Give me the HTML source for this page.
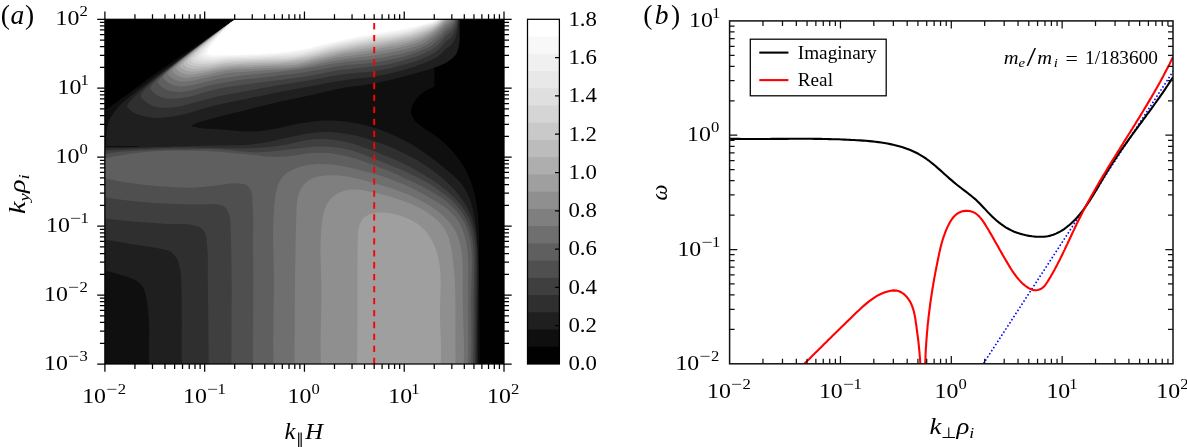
<!DOCTYPE html>
<html><head><meta charset="utf-8"><title>fig</title><style>html,body{margin:0;padding:0;background:#fff}svg{display:block;will-change:transform;opacity:0.999}</style></head><body>
<svg width="1187" height="447" viewBox="0 0 1187 447">
<rect width="1187" height="447" fill="#fff"/>
<g><rect x="104.9" y="19.3" width="399.1" height="344.7" fill="#000"/>
<path fill="#0f0f0f" d="M104.9,110.5C113.3,104.5 121.7,98.6 130.0,92.5C136.7,87.6 143.3,82.4 150.0,77.5C158.2,71.5 166.6,65.8 175.0,60.0C183.3,54.3 191.7,48.7 200.0,43.0C208.9,37.0 217.8,30.9 226.7,25.0C229.6,23.1 232.4,21.2 235.3,19.3L235.3,19.3L459.6,19.3L459.6,40.0L459.6,40.0C459.3,42.3 459.2,44.7 458.6,47.0C457.9,49.9 456.9,52.9 455.3,55.3C453.2,58.3 449.6,60.4 446.4,62.4C442.7,64.6 438.5,65.8 434.5,67.5L434.5,67.5L434.5,86.5L434.5,86.5C431.7,87.9 428.8,89.0 426.2,90.6C423.3,92.5 420.3,94.7 417.9,97.3C415.7,99.7 413.5,102.5 412.4,105.6C411.5,108.1 410.7,111.1 411.2,113.6C411.7,116.0 413.3,118.5 414.9,120.5C416.7,122.8 419.4,124.6 421.8,126.4C424.4,128.5 427.4,130.2 430.2,132.1C433.0,134.1 435.8,136.0 438.5,138.1C441.1,140.1 443.6,142.3 446.0,144.6C448.3,146.8 450.6,149.1 452.7,151.5C454.8,153.9 456.8,156.4 458.7,158.9C460.5,161.5 462.2,164.1 463.8,166.8C465.3,169.4 466.8,172.2 468.1,175.0C469.4,177.8 470.5,180.6 471.6,183.5C472.6,186.5 473.5,189.4 474.2,192.4C475.0,195.5 475.6,198.5 476.2,201.6C476.7,204.7 477.2,207.9 477.5,211.0C477.9,214.2 478.2,217.4 478.4,220.6C478.6,223.8 478.8,227.0 478.9,230.2C479.0,233.5 479.0,236.7 479.1,240.0C479.1,243.2 479.1,246.5 479.1,249.7C479.1,253.0 479.1,256.2 479.1,259.4C479.1,262.6 479.1,265.8 479.1,269.0C479.1,272.2 479.1,275.4 479.1,278.6C479.1,281.7 479.2,284.9 479.2,288.0C479.2,291.1 479.2,294.3 479.3,297.4C479.3,300.6 479.4,303.7 479.4,306.8C479.4,310.0 479.5,313.1 479.5,316.2C479.5,319.4 479.6,322.5 479.6,325.6C479.6,328.8 479.7,332.0 479.7,335.1C479.7,338.3 479.7,341.5 479.7,344.6C479.7,347.9 479.7,351.1 479.7,354.3C479.7,357.5 479.6,360.8 479.6,364.0L479.6,364.0L104.9,364.0Z"/>
<path fill="#1f1f1f" d="M105.9,147.2C106.0,144.8 106.1,142.4 106.2,140.0C106.3,137.1 106.3,134.2 106.7,131.4C107.1,128.0 107.6,124.4 108.9,121.2C110.1,118.1 112.1,115.3 114.0,112.5C116.2,109.4 118.6,106.4 121.3,103.7C124.0,101.1 127.1,98.9 130.0,96.5C136.6,91.1 143.3,85.9 150.0,80.7C159.8,73.2 170.0,66.1 180.0,58.9C190.0,51.7 199.9,44.5 210.0,37.4C218.7,31.3 227.4,25.3 236.1,19.3L236.1,19.3L459.6,19.3L459.6,40.0L459.6,40.0C459.3,42.3 459.2,44.7 458.6,47.0C457.9,49.9 456.9,52.9 455.3,55.3C453.2,58.3 449.6,60.4 446.4,62.4C442.7,64.6 438.5,65.9 434.5,67.5C425.3,71.1 415.6,73.4 406.0,76.0C395.4,78.8 384.8,81.4 374.0,83.5C362.8,85.7 351.2,86.3 340.0,88.5C333.3,89.8 326.7,91.5 320.0,93.0C313.3,94.5 306.7,96.0 300.0,97.4C293.3,98.8 286.6,100.1 280.0,101.6C273.3,103.1 266.7,104.9 260.0,106.5C253.3,108.2 246.7,109.8 240.0,111.5C232.7,113.3 225.3,115.0 218.0,116.9C213.0,118.2 207.9,119.5 203.0,121.0C200.7,121.7 198.2,122.3 196.0,123.3C194.3,124.1 192.7,125.1 191.0,126.0L191.0,126.0C194.0,126.6 197.0,127.4 200.0,127.9C203.1,128.4 206.2,128.5 209.2,128.8C212.3,129.0 215.4,129.1 218.5,129.3C221.6,129.6 224.7,129.8 227.8,130.1C230.9,130.4 234.0,130.7 237.1,131.0C240.1,131.2 243.2,131.5 246.3,131.6C249.4,131.6 252.5,131.6 255.5,131.4C258.6,131.2 261.7,130.9 264.8,130.5C267.9,130.0 270.9,129.5 274.0,128.9C277.1,128.3 280.1,127.7 283.2,127.0C286.3,126.3 289.4,125.6 292.4,125.0C295.5,124.4 298.6,123.7 301.6,123.1C304.7,122.6 307.8,122.1 310.9,121.7C313.9,121.3 317.0,121.0 320.1,120.8C323.1,120.6 326.2,120.5 329.3,120.6C332.3,120.6 335.4,120.7 338.4,120.9C341.5,121.1 344.5,121.4 347.6,121.8C350.6,122.2 353.6,122.7 356.6,123.3C359.6,123.8 362.6,124.5 365.5,125.3C368.5,126.0 371.5,126.9 374.4,127.8C377.3,128.7 380.2,129.7 383.1,130.8C386.0,131.8 388.8,133.0 391.7,134.2C394.5,135.5 397.3,136.8 400.1,138.2C402.9,139.5 405.6,141.0 408.3,142.5C411.0,144.0 413.7,145.6 416.3,147.3C419.0,149.0 421.6,150.7 424.2,152.5C426.7,154.2 429.3,156.1 431.8,158.0C434.3,159.9 436.7,161.8 439.2,163.8C441.7,165.7 444.1,167.7 446.5,169.7C448.9,171.7 451.3,173.7 453.6,175.8C455.8,177.9 458.1,180.0 460.1,182.3C462.0,184.6 463.8,187.0 465.3,189.6C466.8,192.2 468.1,194.9 469.3,197.6C470.4,200.5 471.3,203.4 472.1,206.3C473.0,209.3 473.6,212.3 474.2,215.4C474.8,218.5 475.2,221.6 475.6,224.7C476.0,227.8 476.3,231.0 476.6,234.1C476.9,237.2 477.1,240.4 477.3,243.5C477.5,246.6 477.7,249.7 477.8,252.8C478.0,255.9 478.1,259.0 478.1,262.1C478.2,265.2 478.3,268.3 478.3,271.3C478.4,274.4 478.4,277.5 478.4,280.6C478.4,283.7 478.3,286.7 478.3,289.8C478.3,292.9 478.2,296.0 478.2,299.0C478.1,302.1 478.1,305.2 478.0,308.3C478.0,311.3 477.9,314.4 477.8,317.5C477.8,320.6 477.7,323.7 477.7,326.7C477.7,329.8 477.6,332.9 477.6,336.0C477.6,339.1 477.6,342.2 477.6,345.3C477.6,348.4 477.7,351.5 477.7,354.6C477.8,357.8 477.9,360.9 478.0,364.0L478.0,364.0L148.9,364.0L148.9,364.0C148.6,346.0 150.0,327.9 148.0,310.0C147.5,305.8 147.3,301.4 146.3,297.3C145.5,293.9 144.9,290.1 143.0,287.2C141.5,284.9 139.3,282.9 137.1,281.3C133.7,278.8 129.3,277.8 125.3,276.3C118.7,273.9 111.7,272.4 104.9,270.5L104.9,270.5L104.9,147.2Z"/>
<path fill="#2f2f2f" d="M104.9,148.3C108.0,148.2 111.1,148.2 114.2,148.1C117.3,148.1 120.3,148.0 123.4,147.9C126.5,147.9 129.6,147.8 132.7,147.7C135.8,147.6 138.9,147.5 142.0,147.5C145.1,147.4 148.2,147.3 151.2,147.2C154.3,147.1 157.4,147.0 160.5,147.0C163.6,146.9 166.7,146.8 169.8,146.7C172.9,146.6 176.0,146.5 179.1,146.5C182.2,146.4 185.2,146.3 188.3,146.2C191.4,146.1 194.5,146.1 197.6,146.0C200.7,145.9 203.8,145.9 206.9,145.8C210.0,145.7 213.0,145.7 216.1,145.6C219.2,145.5 222.3,145.5 225.4,145.4C228.4,145.3 231.5,145.3 234.6,145.2C237.6,145.1 240.7,145.0 243.8,144.9C246.8,144.7 249.9,144.5 252.9,144.2C256.0,143.9 259.1,143.5 262.1,143.0C265.2,142.5 268.2,141.9 271.3,141.3C274.3,140.7 277.4,140.0 280.4,139.3C283.4,138.6 286.5,137.9 289.5,137.2C292.6,136.5 295.6,135.8 298.7,135.2C301.7,134.6 304.7,134.0 307.8,133.5C310.8,133.0 313.8,132.6 316.9,132.4C319.9,132.1 323.0,132.0 326.0,132.0C329.0,132.0 332.1,132.1 335.1,132.4C338.1,132.6 341.2,133.0 344.2,133.4C347.2,133.9 350.2,134.4 353.2,135.1C356.2,135.7 359.2,136.5 362.2,137.3C365.2,138.1 368.1,139.0 371.1,139.9C374.0,140.8 377.0,141.8 379.9,142.9C382.8,143.9 385.7,145.0 388.6,146.2C391.5,147.4 394.4,148.6 397.2,149.9C400.0,151.2 402.8,152.5 405.6,153.9C408.4,155.3 411.1,156.8 413.8,158.3C416.5,159.9 419.2,161.4 421.8,163.1C424.5,164.8 427.0,166.5 429.6,168.3C432.1,170.1 434.6,171.9 437.1,173.8C439.5,175.8 441.9,177.7 444.2,179.8C446.6,181.9 448.8,184.0 451.0,186.2C453.2,188.4 455.3,190.7 457.2,193.0C459.2,195.3 461.0,197.8 462.7,200.3C464.4,202.8 466.0,205.3 467.4,208.0C468.8,210.6 470.1,213.4 471.1,216.1C472.2,218.9 473.1,221.8 473.8,224.8C474.6,227.7 475.1,230.7 475.6,233.7C476.1,236.8 476.4,239.9 476.7,243.0C476.9,246.1 477.1,249.3 477.2,252.4C477.3,255.6 477.3,258.7 477.3,261.9C477.3,265.1 477.3,268.3 477.2,271.4C477.2,274.6 477.1,277.7 477.1,280.9C477.0,284.0 477.0,287.1 477.0,290.2C476.9,293.3 476.9,296.3 476.9,299.4C476.9,302.5 476.9,305.5 476.8,308.6C476.8,311.6 476.8,314.6 476.8,317.7C476.8,320.7 476.8,323.8 476.8,326.8C476.8,329.9 476.8,332.9 476.7,336.0C476.7,339.1 476.7,342.1 476.7,345.2C476.7,348.3 476.6,351.4 476.6,354.5C476.6,357.7 476.5,360.8 476.5,364.0L476.5,364.0L181.7,364.0L181.7,364.0C181.7,346.0 181.9,328.0 181.7,310.0C181.6,301.8 181.8,293.7 181.4,285.5C181.1,279.9 181.3,274.1 180.0,268.7C179.2,265.3 178.5,261.6 176.7,258.6C175.2,256.1 173.2,253.4 170.8,251.8C167.6,249.6 163.0,249.5 159.0,248.5C150.7,246.5 142.1,245.9 133.7,244.5C124.1,242.9 114.5,241.2 104.9,239.5L104.9,239.5L104.9,148.3Z"/>
<path fill="#2f2f2f" d="M126.9,106.5C127.0,106.7 127.1,106.8 127.2,107.0C127.5,107.4 127.8,107.7 128.1,108.1C128.7,108.7 129.3,109.3 129.9,109.9C130.8,110.7 131.8,111.5 132.9,112.2C134.2,113.0 135.5,113.6 136.9,114.2C138.5,114.8 140.2,115.3 141.9,115.8C144.2,116.4 146.6,116.8 148.9,117.2C151.5,117.6 154.2,117.9 156.9,118.0C160.2,118.0 163.6,117.6 166.9,117.2C171.9,116.7 177.0,115.8 181.9,114.8C189.4,113.2 196.5,110.3 203.9,108.4C211.2,106.4 218.5,104.7 225.9,103.0C233.2,101.4 240.6,100.0 247.9,98.5C255.2,97.0 262.6,95.4 269.9,93.9C277.2,92.5 284.6,91.2 291.9,89.8C299.2,88.5 306.6,87.2 313.9,85.8C321.2,84.4 328.5,82.6 335.9,81.4C343.2,80.2 350.6,79.6 357.9,78.6C365.2,77.6 372.6,76.9 379.9,75.5C387.3,74.2 394.7,72.5 401.9,70.4C409.3,68.4 416.7,66.0 423.9,63.2C424.3,63.0 424.6,62.9 425.0,62.7C427.7,61.6 430.5,60.7 433.0,59.3C435.4,58.0 437.8,56.5 440.0,54.8C442.2,53.0 443.9,50.7 446.0,48.8C447.6,47.5 449.6,46.5 451.0,44.9C452.4,43.4 453.6,41.7 454.5,39.9C455.7,37.5 456.4,34.9 457.0,32.3C457.9,28.8 458.3,25.1 458.5,21.5C458.5,20.7 458.6,20.0 458.6,19.3L458.6,19.3L236.1,19.3L236.1,19.3C226.3,26.0 216.5,32.6 206.9,39.4C196.8,46.6 186.8,53.9 176.9,61.4C170.2,66.5 163.4,71.5 156.9,76.9C152.2,80.7 147.4,84.6 142.9,88.7C140.2,91.1 137.5,93.6 134.9,96.2C133.4,97.7 131.8,99.2 130.4,100.8C129.5,101.9 128.5,102.9 127.9,104.0C127.5,104.8 127.2,105.7 126.9,106.5Z"/>
<path fill="#3f3f3f" d="M104.9,150.8C108.0,150.6 111.1,150.5 114.2,150.3C117.3,150.1 120.3,149.9 123.4,149.8C126.5,149.6 129.6,149.4 132.7,149.3C135.8,149.1 138.9,148.9 141.9,148.8C145.0,148.6 148.1,148.5 151.2,148.4C154.3,148.2 157.4,148.1 160.5,148.0C163.6,147.9 166.6,147.8 169.7,147.8C172.8,147.7 175.9,147.6 179.0,147.6C182.1,147.6 185.2,147.6 188.3,147.6C191.4,147.6 194.5,147.7 197.6,147.7C200.7,147.8 203.8,147.8 206.9,147.9C210.0,148.0 213.1,148.0 216.2,148.1C219.3,148.2 222.4,148.2 225.5,148.3C228.5,148.3 231.6,148.4 234.7,148.4C237.8,148.4 240.9,148.4 243.9,148.3C247.0,148.3 250.1,148.2 253.1,148.1C256.2,148.0 259.2,147.8 262.3,147.6C265.3,147.4 268.4,147.1 271.4,146.8C274.5,146.4 277.5,146.0 280.6,145.5C283.7,145.0 286.7,144.4 289.8,143.8C292.8,143.1 295.9,142.4 299.0,141.8C302.0,141.1 305.1,140.5 308.2,140.0C311.2,139.6 314.3,139.2 317.4,139.1C320.4,138.9 323.5,138.9 326.5,139.1C329.6,139.3 332.6,139.6 335.6,140.1C338.6,140.5 341.7,141.1 344.7,141.8C347.7,142.5 350.7,143.3 353.6,144.1C356.6,145.0 359.6,146.0 362.5,146.9C365.5,147.9 368.4,149.0 371.3,150.1C374.2,151.1 377.1,152.3 380.0,153.4C382.9,154.5 385.7,155.7 388.6,156.9C391.4,158.1 394.2,159.4 397.0,160.6C399.8,161.9 402.6,163.2 405.3,164.6C408.1,166.0 410.8,167.4 413.5,168.8C416.2,170.3 418.9,171.8 421.6,173.4C424.3,175.0 426.9,176.6 429.5,178.2C432.2,179.9 434.8,181.7 437.3,183.5C439.8,185.3 442.3,187.1 444.7,189.1C447.1,191.1 449.5,193.1 451.7,195.2C454.0,197.3 456.2,199.5 458.2,201.8C460.2,204.1 462.1,206.5 463.8,209.0C465.5,211.5 467.0,214.1 468.3,216.8C469.6,219.4 470.7,222.3 471.6,225.1C472.5,227.9 473.2,230.9 473.7,233.8C474.3,236.8 474.7,239.9 475.0,243.0C475.3,246.1 475.5,249.2 475.6,252.3C475.7,255.5 475.7,258.6 475.7,261.8C475.7,265.0 475.7,268.1 475.6,271.3C475.6,274.5 475.5,277.6 475.5,280.8C475.4,283.9 475.4,287.0 475.4,290.1C475.4,293.2 475.4,296.2 475.3,299.3C475.3,302.4 475.3,305.4 475.3,308.5C475.3,311.5 475.3,314.6 475.4,317.6C475.4,320.7 475.4,323.7 475.4,326.8C475.4,329.9 475.4,332.9 475.3,336.0C475.3,339.1 475.3,342.1 475.3,345.2C475.3,348.3 475.2,351.4 475.2,354.5C475.1,357.7 475.1,360.8 475.0,364.0L475.0,364.0L208.7,364.0L208.7,364.0C208.4,336.0 208.3,308.0 207.8,280.0C207.6,268.3 208.4,256.6 207.0,245.0C206.5,241.3 206.8,237.3 205.3,234.0C204.3,231.9 202.9,229.5 201.1,228.1C198.9,226.4 195.5,226.0 192.7,225.3C184.6,223.2 175.8,224.4 167.4,223.9C156.2,223.2 144.9,222.4 133.7,221.4C124.1,220.5 114.5,219.5 104.9,218.5L104.9,218.5L104.9,150.8Z"/>
<path fill="#3f3f3f" d="M140.6,96.3C140.7,96.5 140.8,96.7 140.9,96.9C141.2,97.3 141.5,97.7 141.8,98.1C142.3,98.8 142.9,99.5 143.6,100.1C144.5,101.0 145.5,101.8 146.6,102.6C147.8,103.4 149.2,104.2 150.6,104.9C152.2,105.6 153.9,106.3 155.6,106.7C157.8,107.3 160.2,107.5 162.6,107.7C165.2,107.8 167.9,107.6 170.6,107.4C173.9,107.2 177.3,106.8 180.6,106.2C185.7,105.3 190.6,103.6 195.6,102.3C202.9,100.4 210.2,98.2 217.6,96.5C224.9,94.8 232.2,93.6 239.6,92.2C246.9,90.8 254.3,89.6 261.6,88.3C268.9,87.0 276.2,85.7 283.6,84.5C290.9,83.3 298.3,82.3 305.6,81.0C312.9,79.8 320.2,78.2 327.6,76.9C334.9,75.7 342.2,74.5 349.6,73.6C356.9,72.7 364.3,72.6 371.6,71.5C379.0,70.5 386.3,69.1 393.6,67.4C401.0,65.6 408.4,63.7 415.6,61.2C418.8,60.1 421.9,58.9 425.0,57.6C427.7,56.4 430.5,55.2 433.0,53.6C435.5,52.1 437.9,50.2 440.0,48.2C442.2,46.1 443.8,43.4 446.0,41.4C447.6,39.9 449.6,39.0 451.0,37.4C452.4,35.9 453.6,34.2 454.5,32.4C455.7,30.0 456.4,27.4 457.0,24.8C457.4,23.0 457.5,21.1 457.8,19.3L457.8,19.3L236.1,19.3L236.1,19.3C230.9,22.8 225.7,26.2 220.6,29.7C210.4,36.8 200.5,44.3 190.6,51.8C183.9,56.8 177.2,61.9 170.6,67.2C165.9,70.9 161.1,74.6 156.6,78.6C153.9,80.9 151.1,83.3 148.6,85.8C147.0,87.3 145.5,88.8 144.1,90.5C143.2,91.5 142.2,92.6 141.6,93.8C141.2,94.6 140.9,95.5 140.6,96.3Z"/>
<path fill="#4f4f4f" d="M104.9,154.0C108.0,153.5 111.1,153.0 114.1,152.6C117.2,152.3 120.3,151.9 123.4,151.6C126.5,151.3 129.6,151.1 132.7,150.9C135.8,150.7 138.9,150.5 142.0,150.4C145.1,150.2 148.2,150.1 151.3,150.0C154.4,149.9 157.5,149.8 160.6,149.8C163.7,149.7 166.8,149.7 169.9,149.6C173.0,149.6 176.1,149.6 179.2,149.5C182.3,149.5 185.4,149.4 188.5,149.4C191.6,149.3 194.7,149.2 197.9,149.2C201.0,149.2 204.1,149.1 207.2,149.1C210.3,149.2 213.4,149.2 216.5,149.3C219.6,149.4 222.7,149.6 225.8,149.8C228.9,150.1 232.0,150.4 235.1,150.7C238.1,151.0 241.2,151.4 244.3,151.6C247.4,151.9 250.5,152.1 253.6,152.2C256.6,152.3 259.7,152.3 262.8,152.1C265.9,152.0 269.0,151.8 272.1,151.5C275.2,151.2 278.2,150.9 281.3,150.5C284.4,150.1 287.5,149.7 290.6,149.3C293.7,148.9 296.8,148.5 299.8,148.2C302.9,147.8 306.0,147.4 309.1,147.2C312.2,146.9 315.3,146.7 318.4,146.6C321.5,146.6 324.6,146.5 327.7,146.7C330.7,146.8 333.8,147.0 336.8,147.4C339.9,147.8 342.9,148.3 345.9,149.0C348.9,149.7 351.9,150.5 354.9,151.4C357.8,152.4 360.8,153.4 363.7,154.5C366.6,155.6 369.5,156.7 372.4,157.9C375.3,159.0 378.2,160.2 381.1,161.4C384.0,162.6 386.9,163.7 389.7,164.9C392.6,166.1 395.4,167.3 398.3,168.6C401.1,169.8 403.9,171.0 406.7,172.3C409.5,173.6 412.3,174.9 415.1,176.2C417.8,177.6 420.6,179.0 423.3,180.5C426.0,182.0 428.7,183.5 431.4,185.2C434.0,186.8 436.7,188.6 439.2,190.4C441.8,192.2 444.3,194.1 446.7,196.1C449.1,198.1 451.5,200.2 453.7,202.4C455.8,204.6 457.9,206.9 459.8,209.3C461.7,211.7 463.4,214.2 464.8,216.8C466.3,219.4 467.5,222.1 468.6,224.9C469.6,227.7 470.5,230.6 471.2,233.5C471.9,236.4 472.4,239.5 472.8,242.5C473.2,245.5 473.5,248.6 473.7,251.7C473.9,254.9 474.0,258.1 474.1,261.2C474.1,264.4 474.1,267.6 474.0,270.8C474.0,274.0 473.9,277.2 473.9,280.3C473.8,283.5 473.7,286.6 473.7,289.8C473.6,292.9 473.6,296.0 473.6,299.1C473.5,302.2 473.5,305.2 473.5,308.3C473.5,311.4 473.5,314.4 473.5,317.5C473.5,320.5 473.5,323.6 473.4,326.7C473.4,329.7 473.4,332.8 473.4,335.9C473.4,338.9 473.4,342.0 473.3,345.1C473.3,348.2 473.3,351.4 473.2,354.5C473.1,357.7 473.1,360.8 473.0,364.0L473.0,364.0L231.4,364.0L231.4,364.0C231.3,324.3 232.2,284.6 231.1,245.0C231.0,239.7 231.0,234.3 230.6,229.0C230.2,223.9 230.9,218.4 228.9,213.8C227.9,211.4 226.7,208.6 224.7,207.0C222.9,205.6 220.2,205.1 217.9,204.5C212.5,203.1 206.7,204.5 201.1,204.5C189.9,204.4 178.6,204.2 167.4,203.7C156.2,203.2 144.9,202.4 133.7,201.2C124.1,200.2 114.5,198.7 104.9,197.5L104.9,197.5L104.9,154.0Z"/>
<path fill="#4f4f4f" d="M150.4,88.3C150.5,88.5 150.6,88.7 150.7,88.9C151.0,89.4 151.3,89.8 151.6,90.2C152.1,91.0 152.7,91.7 153.4,92.3C154.3,93.3 155.3,94.1 156.4,94.9C157.6,95.7 159.0,96.4 160.4,96.9C162.0,97.6 163.7,97.9 165.4,98.3C167.7,98.7 170.1,98.8 172.4,98.8C175.1,98.9 177.7,98.6 180.4,98.3C183.8,97.9 187.1,97.1 190.4,96.4C195.5,95.2 200.4,93.4 205.4,92.0C212.7,90.1 220.0,88.4 227.4,87.0C234.7,85.7 242.1,85.0 249.4,84.0C256.7,83.0 264.0,81.9 271.4,81.0C278.7,80.0 286.1,79.4 293.4,78.3C300.7,77.3 308.1,76.0 315.4,74.7C322.7,73.4 330.0,71.6 337.4,70.5C344.7,69.4 352.1,69.0 359.4,68.1C366.7,67.3 374.1,66.5 381.4,65.3C388.8,64.0 396.2,62.5 403.4,60.4C410.7,58.4 418.1,56.3 425.0,53.0C427.7,51.7 430.5,50.4 433.0,48.8C435.5,47.1 437.8,45.1 440.0,42.9C442.2,40.8 443.8,38.0 446.0,35.9C447.5,34.4 449.6,33.5 451.0,31.9C452.4,30.4 453.6,28.7 454.5,26.9C455.7,24.5 456.6,21.9 457.0,19.3C457.0,19.3 457.0,19.3 457.0,19.3L457.0,19.3L236.0,19.3L236.0,19.3C234.2,20.5 232.3,21.6 230.4,22.8C219.9,29.4 210.3,37.3 200.4,44.7C193.7,49.7 187.0,54.8 180.4,60.0C175.7,63.7 171.0,67.4 166.4,71.3C163.7,73.6 161.0,75.9 158.4,78.3C156.9,79.8 155.3,81.2 153.9,82.8C153.0,83.8 152.0,84.7 151.4,85.9C151.0,86.7 150.7,87.5 150.4,88.3Z"/>
<path fill="#5f5f5f" d="M104.9,158.6C107.9,157.9 110.9,157.2 113.9,156.6C116.9,156.0 119.9,155.5 122.9,155.0C126.0,154.4 129.0,154.0 132.0,153.6C135.0,153.2 138.1,152.8 141.1,152.5C144.2,152.1 147.2,151.9 150.3,151.6C153.3,151.4 156.4,151.2 159.4,151.0C162.5,150.9 165.5,150.7 168.6,150.6C171.7,150.6 174.7,150.5 177.8,150.5C180.9,150.5 183.9,150.5 187.0,150.5C190.1,150.5 193.2,150.6 196.2,150.7C199.3,150.8 202.4,150.9 205.4,151.1C208.5,151.2 211.6,151.4 214.6,151.6C217.7,151.8 220.8,152.0 223.8,152.2C226.9,152.4 230.0,152.7 233.0,152.9C236.1,153.2 239.1,153.5 242.2,153.8C245.2,154.1 248.3,154.4 251.3,154.7C254.3,155.0 257.4,155.4 260.4,155.7C263.4,156.0 266.5,156.3 269.5,156.5C272.5,156.6 275.6,156.8 278.6,156.7C281.7,156.7 284.7,156.5 287.8,156.2C290.9,155.9 293.9,155.4 297.0,155.0C300.1,154.5 303.1,154.0 306.2,153.6C309.3,153.2 312.3,152.9 315.4,152.7C318.4,152.6 321.5,152.6 324.5,152.8C327.5,152.9 330.6,153.3 333.6,153.7C336.6,154.1 339.6,154.7 342.5,155.3C345.5,156.0 348.5,156.8 351.4,157.6C354.4,158.4 357.3,159.3 360.2,160.2C363.1,161.2 366.0,162.1 368.9,163.2C371.8,164.2 374.6,165.3 377.5,166.4C380.3,167.5 383.2,168.6 386.0,169.8C388.8,170.9 391.6,172.2 394.4,173.4C397.3,174.6 400.0,175.9 402.8,177.2C405.6,178.5 408.4,179.8 411.2,181.1C414.0,182.5 416.7,183.8 419.5,185.2C422.3,186.6 425.0,188.0 427.7,189.5C430.4,190.9 433.1,192.4 435.8,194.1C438.4,195.7 441.0,197.3 443.4,199.1C445.9,201.0 448.3,202.9 450.5,204.9C452.8,207.0 454.9,209.1 456.9,211.5C458.8,213.7 460.7,216.2 462.2,218.7C463.8,221.2 465.2,223.9 466.3,226.6C467.4,229.3 468.3,232.2 469.1,235.0C469.8,238.0 470.4,240.9 470.8,243.9C471.3,246.9 471.5,250.0 471.7,253.1C471.9,256.2 471.9,259.3 472.0,262.5C472.0,265.6 471.9,268.8 471.8,272.0C471.7,275.1 471.6,278.3 471.5,281.5C471.4,284.6 471.2,287.7 471.2,290.8C471.1,293.9 471.1,297.0 471.0,300.1C471.0,303.1 471.0,306.1 471.1,309.1C471.1,312.1 471.1,315.1 471.2,318.1C471.2,321.1 471.3,324.1 471.3,327.1C471.3,330.1 471.4,333.1 471.4,336.1C471.4,339.1 471.4,342.2 471.4,345.2C471.3,348.3 471.3,351.4 471.2,354.5C471.0,357.7 470.9,360.8 470.7,364.0L470.7,364.0L253.0,364.0L253.0,364.0C253.0,324.3 253.4,284.7 253.0,245.0C252.9,231.2 253.8,217.4 252.5,203.7C252.1,199.2 253.0,194.0 250.8,190.2C249.8,188.4 248.3,186.3 246.6,185.2C244.3,183.7 241.0,183.8 238.2,183.5C231.5,182.7 224.7,184.6 217.9,185.2C209.5,186.0 201.1,187.4 192.7,187.7C184.3,188.0 175.8,187.3 167.4,186.8C156.1,186.1 144.9,185.0 133.7,183.5C124.1,182.2 114.5,180.2 104.9,178.5L104.9,178.5L104.9,158.6Z"/>
<path fill="#5f5f5f" d="M157.8,82.3C157.9,82.5 158.0,82.7 158.1,82.9C158.4,83.3 158.7,83.8 159.0,84.2C159.5,84.9 160.2,85.5 160.8,86.2C161.7,87.0 162.7,87.8 163.8,88.4C165.1,89.2 166.4,89.8 167.8,90.3C169.4,90.9 171.1,91.3 172.8,91.6C175.1,92.0 177.5,92.0 179.8,92.0C182.5,91.9 185.2,91.5 187.8,91.1C191.2,90.5 194.5,89.4 197.8,88.5C202.8,87.3 207.8,85.9 212.8,84.8C220.1,83.2 227.4,81.8 234.8,80.7C242.1,79.6 249.5,79.1 256.8,78.2C264.1,77.3 271.5,76.3 278.8,75.4C286.1,74.5 293.5,73.9 300.8,72.9C308.2,71.8 315.5,70.3 322.8,69.0C330.1,67.8 337.4,66.3 344.8,65.3C352.1,64.4 359.5,64.4 366.8,63.5C374.2,62.6 381.5,61.4 388.8,60.0C396.2,58.5 403.6,56.9 410.8,54.5C415.6,53.0 420.5,51.4 425.0,49.1C427.8,47.7 430.5,46.2 433.0,44.4C435.5,42.6 437.8,40.6 440.0,38.5C442.1,36.5 443.8,33.9 446.0,31.9C447.6,30.4 449.6,29.5 451.0,27.9C452.4,26.4 453.7,24.7 454.5,22.9C455.0,21.7 455.3,20.5 455.7,19.3L455.7,19.3L236.0,19.3L236.0,19.3C226.6,26.0 217.1,32.5 207.8,39.3C201.1,44.3 194.4,49.4 187.8,54.5C183.1,58.2 178.4,61.9 173.8,65.7C171.1,68.0 168.4,70.3 165.8,72.6C164.3,74.1 162.7,75.4 161.3,77.0C160.4,78.0 159.5,78.9 158.8,80.0C158.4,80.7 158.1,81.5 157.8,82.3Z"/>
<path fill="#6f6f6f" d="M273.5,364.0C273.4,360.9 273.4,357.9 273.3,354.8C273.3,351.7 273.3,348.6 273.2,345.5C273.2,342.4 273.3,339.4 273.3,336.3C273.3,333.2 273.3,330.1 273.4,327.0C273.4,323.9 273.4,320.8 273.5,317.7C273.5,314.6 273.6,311.5 273.6,308.4C273.7,305.3 273.7,302.2 273.7,299.1C273.8,296.0 273.8,292.9 273.8,289.8C273.8,286.8 273.8,283.7 273.8,280.6C273.8,277.5 273.8,274.4 273.8,271.4C273.7,268.3 273.6,265.2 273.6,262.2C273.5,259.1 273.4,256.0 273.4,253.0C273.3,249.9 273.2,246.8 273.2,243.8C273.2,240.7 273.1,237.6 273.1,234.5C273.1,231.4 273.2,228.3 273.2,225.2C273.3,222.1 273.4,219.0 273.6,215.9C273.7,212.7 273.9,209.6 274.2,206.4C274.4,203.3 274.7,200.1 275.2,196.9C275.7,193.8 276.1,190.7 277.1,187.8C278.0,185.0 279.0,182.1 280.6,179.7C282.1,177.3 284.1,175.1 286.3,173.3C288.7,171.5 291.5,170.1 294.2,168.9C297.0,167.6 300.1,166.7 303.1,166.0C306.1,165.3 309.1,164.8 312.2,164.5C315.3,164.1 318.4,164.0 321.5,164.0C324.6,164.0 327.7,164.2 330.8,164.5C333.9,164.8 337.0,165.3 340.1,165.8C343.2,166.3 346.3,166.9 349.4,167.6C352.5,168.2 355.5,169.0 358.6,169.7C361.6,170.5 364.6,171.2 367.6,172.1C370.6,172.9 373.5,173.7 376.5,174.6C379.4,175.5 382.3,176.4 385.2,177.3C388.0,178.3 390.9,179.3 393.7,180.4C396.6,181.4 399.4,182.6 402.2,183.8C405.0,184.9 407.8,186.2 410.6,187.5C413.4,188.8 416.2,190.3 418.9,191.7C421.7,193.2 424.4,194.7 427.1,196.3C429.9,197.9 432.6,199.5 435.3,201.1C438.0,202.7 440.7,204.3 443.2,206.1C445.7,207.8 448.2,209.6 450.4,211.7C452.6,213.7 454.7,216.0 456.4,218.3C458.2,220.7 459.7,223.4 461.0,226.1C462.3,228.8 463.3,231.6 464.2,234.4C465.1,237.3 465.8,240.3 466.4,243.3C467.0,246.3 467.3,249.4 467.6,252.4C468.0,255.6 468.1,258.7 468.2,261.8C468.4,265.0 468.4,268.2 468.4,271.4C468.4,274.5 468.3,277.7 468.3,280.9C468.2,284.0 468.2,287.1 468.2,290.3C468.1,293.4 468.1,296.5 468.1,299.5C468.1,302.6 468.1,305.7 468.1,308.7C468.1,311.7 468.2,314.8 468.2,317.8C468.2,320.8 468.2,323.8 468.2,326.9C468.3,329.9 468.3,332.9 468.3,336.0C468.3,339.0 468.3,342.1 468.3,345.2C468.3,348.3 468.2,351.4 468.2,354.5C468.1,357.7 468.1,360.8 468.0,364.0Z"/>
<path fill="#6f6f6f" d="M163.0,77.5C163.1,77.7 163.2,77.9 163.3,78.0C163.6,78.5 163.9,78.9 164.2,79.3C164.8,79.9 165.4,80.6 166.0,81.1C166.9,82.0 168.0,82.7 169.0,83.3C170.3,84.1 171.6,84.7 173.0,85.1C174.6,85.7 176.3,86.0 178.0,86.2C180.3,86.5 182.7,86.4 185.0,86.3C187.7,86.1 190.4,85.6 193.0,85.1C196.4,84.4 199.7,83.3 203.0,82.5C208.0,81.3 213.0,80.0 218.0,79.0C225.3,77.6 232.7,76.7 240.0,75.7C247.3,74.8 254.7,74.3 262.0,73.5C269.3,72.8 276.7,72.1 284.0,71.3C291.4,70.5 298.7,69.8 306.0,68.6C313.4,67.5 320.7,65.8 328.0,64.6C335.3,63.3 342.7,62.2 350.0,61.3C357.3,60.4 364.7,60.2 372.0,59.2C379.4,58.2 386.7,56.9 394.0,55.3C401.4,53.6 408.9,52.0 416.0,49.4C419.0,48.2 422.1,47.1 425.0,45.6C427.8,44.1 430.5,42.4 433.0,40.5C435.5,38.7 437.8,36.7 440.0,34.6C442.1,32.7 443.8,30.3 446.0,28.4C447.6,27.0 449.6,26.0 451.0,24.4C452.4,22.9 453.9,21.3 454.5,19.4C454.5,19.4 454.5,19.3 454.5,19.3L454.5,19.3L236.0,19.3L236.0,19.3C228.3,24.7 220.6,29.9 213.0,35.4C206.3,40.3 199.6,45.4 193.0,50.5C188.3,54.1 183.6,57.7 179.0,61.5C176.3,63.7 173.6,66.0 171.0,68.3C169.5,69.7 167.9,71.0 166.5,72.5C165.6,73.4 164.7,74.3 164.0,75.4C163.6,76.1 163.3,76.8 163.0,77.5Z"/>
<path fill="#7f7f7f" d="M294.6,364.0C294.6,360.9 294.6,357.7 294.6,354.6C294.6,351.4 294.6,348.3 294.6,345.2C294.7,342.1 294.7,338.9 294.7,335.8C294.7,332.7 294.7,329.6 294.7,326.5C294.7,323.4 294.7,320.3 294.7,317.2C294.8,314.1 294.8,311.0 294.8,307.9C294.8,304.8 294.8,301.7 294.9,298.7C294.9,295.6 294.9,292.5 294.9,289.4C295.0,286.3 295.0,283.2 295.0,280.1C295.1,277.0 295.1,273.9 295.1,270.8C295.2,267.7 295.2,264.6 295.3,261.5C295.3,258.4 295.4,255.3 295.4,252.1C295.5,249.0 295.6,245.9 295.6,242.8C295.7,239.6 295.8,236.5 295.8,233.3C295.9,230.2 296.0,227.0 296.1,223.9C296.2,220.7 296.2,217.5 296.4,214.4C296.5,211.2 296.5,208.0 296.8,204.8C297.1,201.8 297.4,198.6 298.3,195.7C299.1,192.8 300.2,189.8 301.8,187.3C303.4,184.9 305.5,182.5 307.9,180.8C310.3,179.1 313.4,178.0 316.3,177.1C319.2,176.2 322.4,175.8 325.5,175.5C328.5,175.2 331.6,175.1 334.7,175.2C337.8,175.3 340.9,175.6 344.0,176.1C347.2,176.5 350.2,177.1 353.3,177.7C356.4,178.4 359.5,179.1 362.6,179.9C365.6,180.7 368.7,181.6 371.7,182.4C374.7,183.2 377.7,184.1 380.7,185.0C383.7,185.9 386.6,186.8 389.6,187.7C392.5,188.7 395.4,189.7 398.3,190.7C401.2,191.8 404.0,192.9 406.9,194.1C409.7,195.3 412.6,196.5 415.4,197.9C418.2,199.2 421.0,200.7 423.7,202.2C426.5,203.7 429.2,205.4 431.9,207.1C434.5,208.9 437.1,210.7 439.5,212.7C441.9,214.7 444.3,216.7 446.4,219.0C448.5,221.2 450.5,223.5 452.2,226.0C453.9,228.4 455.4,231.0 456.7,233.7C457.9,236.4 458.9,239.3 459.7,242.2C460.5,245.2 461.1,248.2 461.5,251.2C462.0,254.4 462.3,257.5 462.5,260.7C462.7,263.9 462.8,267.1 462.8,270.3C462.9,273.6 462.8,276.8 462.8,280.1C462.8,283.3 462.7,286.5 462.7,289.7C462.7,292.8 462.7,296.0 462.8,299.1C462.8,302.2 462.9,305.3 463.0,308.4C463.0,311.4 463.1,314.5 463.2,317.5C463.3,320.5 463.4,323.5 463.5,326.6C463.6,329.6 463.7,332.7 463.8,335.7C463.9,338.8 463.9,341.8 464.0,344.9C464.0,348.1 464.0,351.2 463.9,354.3C463.9,357.6 463.8,360.8 463.7,364.0Z"/>
<path fill="#7f7f7f" d="M167.8,74.0C167.9,74.2 168.0,74.3 168.1,74.5C168.4,74.9 168.7,75.2 169.0,75.6C169.5,76.2 170.2,76.8 170.8,77.3C171.7,78.0 172.7,78.7 173.8,79.2C175.1,79.9 176.4,80.3 177.8,80.7C179.4,81.1 181.1,81.3 182.8,81.4C185.1,81.6 187.5,81.4 189.8,81.1C192.5,80.8 195.1,80.0 197.8,79.4C201.1,78.7 204.5,77.9 207.8,77.2C212.8,76.0 217.8,74.7 222.8,73.9C230.0,72.6 237.5,72.4 244.8,71.8C252.1,71.2 259.5,70.8 266.8,70.3C274.1,69.9 281.5,69.9 288.8,69.1C296.2,68.3 303.5,67.1 310.8,65.7C318.2,64.4 325.4,62.4 332.8,61.1C340.1,59.7 347.4,58.8 354.8,57.8C362.1,56.8 369.5,56.2 376.8,55.0C384.2,53.9 391.5,52.6 398.8,50.8C406.2,49.0 413.9,47.5 420.8,44.3C422.2,43.7 423.6,43.0 425.0,42.2C427.8,40.7 430.4,38.9 433.0,37.0C435.4,35.2 437.8,33.3 440.0,31.3C442.1,29.4 443.9,27.2 446.0,25.3C447.6,24.0 449.7,23.0 451.0,21.4C451.5,20.8 452.0,20.0 452.5,19.3L452.5,19.3L236.0,19.3L236.0,19.3C229.9,23.5 223.8,27.7 217.8,32.0C211.0,36.9 204.4,42.0 197.8,47.1C193.1,50.7 188.4,54.3 183.8,58.1C181.1,60.3 178.4,62.5 175.8,64.9C174.3,66.2 172.7,67.6 171.3,69.1C170.4,70.0 169.5,70.9 168.8,71.9C168.4,72.6 168.1,73.3 167.8,74.0Z"/>
<path fill="#8f8f8f" d="M320.9,364.0C320.8,360.9 320.7,357.8 320.7,354.6C320.6,351.5 320.6,348.4 320.6,345.2C320.6,342.1 320.6,339.0 320.7,335.8C320.7,332.7 320.8,329.6 320.8,326.4C320.9,323.3 321.0,320.2 321.0,317.0C321.1,313.9 321.1,310.7 321.2,307.6C321.2,304.5 321.3,301.4 321.3,298.2C321.3,295.1 321.3,292.0 321.3,288.8C321.3,285.7 321.3,282.6 321.2,279.5C321.1,276.4 321.0,273.3 320.9,270.2C320.9,267.1 320.7,264.0 320.7,260.8C320.6,257.7 320.5,254.6 320.5,251.5C320.5,248.4 320.5,245.2 320.6,242.1C320.7,238.9 320.8,235.8 321.1,232.6C321.3,229.4 321.6,226.2 322.0,223.0C322.4,219.8 322.8,216.6 323.6,213.5C324.4,210.5 325.3,207.5 326.8,204.8C328.2,202.1 329.9,199.6 332.0,197.5C334.1,195.5 336.6,193.7 339.2,192.4C341.9,191.1 344.9,190.4 347.9,189.9C350.9,189.4 354.2,189.5 357.3,189.6C360.5,189.8 363.8,190.3 367.0,190.9C370.1,191.4 373.2,192.1 376.3,192.9C379.4,193.6 382.4,194.5 385.4,195.3C388.4,196.2 391.4,197.1 394.3,198.0C397.4,199.0 400.4,200.0 403.4,201.1C406.3,202.1 409.3,203.3 412.2,204.5C415.1,205.8 418.0,207.1 420.8,208.6C423.5,210.0 426.2,211.6 428.8,213.4C431.3,215.1 433.8,217.0 436.0,219.1C438.3,221.1 440.4,223.3 442.3,225.7C444.1,228.1 445.7,230.8 447.0,233.5C448.3,236.2 449.2,239.2 450.0,242.2C450.8,245.2 451.3,248.3 451.8,251.4C452.3,254.5 452.7,257.6 453.0,260.7C453.4,263.9 453.7,267.0 454.0,270.1C454.3,273.2 454.5,276.4 454.7,279.5C454.8,282.6 455.0,285.8 455.1,288.9C455.2,292.0 455.3,295.1 455.3,298.3C455.4,301.4 455.4,304.5 455.4,307.7C455.5,310.8 455.4,313.9 455.4,317.1C455.4,320.2 455.4,323.3 455.4,326.5C455.4,329.6 455.4,332.7 455.4,335.9C455.4,339.0 455.4,342.1 455.4,345.3C455.4,348.4 455.4,351.5 455.5,354.6C455.5,357.8 455.6,360.9 455.7,364.0Z"/>
<path fill="#8f8f8f" d="M172.2,71.1C172.3,71.3 172.4,71.4 172.5,71.6C172.7,72.0 173.0,72.3 173.4,72.7C173.9,73.2 174.5,73.7 175.2,74.2C176.1,74.9 177.1,75.5 178.2,76.0C179.4,76.5 180.8,76.9 182.2,77.2C183.8,77.6 185.5,77.7 187.2,77.7C189.5,77.8 191.8,77.4 194.2,77.1C196.9,76.7 199.5,76.0 202.2,75.4C205.5,74.7 208.8,74.1 212.2,73.4C217.2,72.4 222.1,71.2 227.2,70.5C234.4,69.4 241.8,69.6 249.2,69.1C256.5,68.7 263.8,68.2 271.2,67.9C278.5,67.5 285.9,67.7 293.2,66.9C300.6,66.0 307.9,64.1 315.2,62.6C322.5,61.0 329.8,59.0 337.2,57.6C344.4,56.3 351.8,55.5 359.2,54.4C366.5,53.3 373.9,52.3 381.2,51.1C388.5,49.8 396.0,48.7 403.2,46.8C410.6,44.8 418.3,43.0 425.0,39.3C427.8,37.8 430.4,36.0 433.0,34.2C435.4,32.4 437.8,30.6 440.0,28.6C442.1,26.8 443.9,24.7 446.0,22.9C447.5,21.7 449.1,20.5 450.6,19.3L450.6,19.3L236.0,19.3L236.0,19.3C231.4,22.5 226.7,25.6 222.2,28.9C215.4,33.7 208.8,38.9 202.2,44.0C197.5,47.7 192.7,51.3 188.2,55.1C185.5,57.3 182.8,59.5 180.2,61.9C178.6,63.3 177.1,64.6 175.7,66.1C174.8,67.1 173.8,67.9 173.2,69.0C172.8,69.7 172.5,70.4 172.2,71.1Z"/>
<path fill="#9f9f9f" d="M357.0,364.0C357.1,360.8 357.1,357.7 357.2,354.5C357.2,351.4 357.3,348.3 357.3,345.2C357.4,342.1 357.4,339.0 357.4,335.9C357.4,332.8 357.5,329.8 357.5,326.7C357.5,323.6 357.5,320.6 357.5,317.5C357.5,314.5 357.5,311.4 357.5,308.4C357.5,305.3 357.5,302.3 357.5,299.2C357.5,296.2 357.5,293.1 357.5,290.1C357.5,287.0 357.5,283.9 357.5,280.9C357.5,277.8 357.5,274.7 357.5,271.6C357.5,268.4 357.5,265.3 357.5,262.2C357.5,259.0 357.6,255.8 357.6,252.7C357.6,249.4 357.6,246.2 357.7,243.0C357.8,239.8 357.7,236.6 358.1,233.4C358.4,230.4 358.7,227.4 359.7,224.6C360.7,222.2 362.0,219.6 363.8,217.8C365.8,215.9 368.6,214.6 371.2,213.7C374.1,212.7 377.4,212.5 380.5,212.4C383.7,212.4 387.0,212.8 390.2,213.3C393.4,213.9 396.6,214.6 399.7,215.6C402.7,216.5 405.7,217.5 408.6,218.9C411.4,220.1 414.1,221.6 416.7,223.3C419.1,225.0 421.5,226.9 423.6,229.1C425.7,231.2 427.6,233.6 429.3,236.1C431.0,238.7 432.4,241.4 433.7,244.2C435.0,247.0 436.1,249.9 437.0,252.9C437.9,255.8 438.6,258.9 439.1,261.9C439.7,265.0 440.0,268.1 440.3,271.1C440.6,274.2 440.7,277.3 440.7,280.4C440.8,283.5 440.7,286.6 440.6,289.8C440.6,292.9 440.4,296.0 440.3,299.1C440.2,302.2 440.1,305.3 440.0,308.4C440.0,311.5 440.0,314.6 440.0,317.7C440.1,320.8 440.2,323.9 440.3,326.9C440.4,330.0 440.6,333.1 440.7,336.2C440.8,339.2 440.9,342.3 441.0,345.4C441.1,348.5 441.1,351.6 441.1,354.7C441.0,357.8 440.8,360.9 440.7,364.0Z"/>
<path fill="#9f9f9f" d="M176.1,68.6C176.2,68.8 176.3,68.9 176.4,69.1C176.7,69.4 177.0,69.8 177.3,70.1C177.9,70.6 178.5,71.1 179.1,71.5C180.1,72.2 181.1,72.7 182.1,73.1C183.4,73.6 184.8,74.0 186.1,74.2C187.8,74.5 189.5,74.6 191.1,74.6C193.5,74.6 195.8,74.0 198.1,73.6C200.8,73.2 203.5,72.7 206.1,72.2C209.5,71.6 212.8,70.9 216.1,70.3C221.1,69.4 226.1,68.5 231.1,67.9C238.4,67.1 245.8,67.3 253.1,66.9C260.5,66.6 267.8,66.2 275.1,65.8C282.5,65.4 289.9,65.4 297.1,64.4C304.5,63.4 311.8,61.2 319.1,59.6C326.5,57.9 333.7,55.9 341.1,54.5C348.4,53.1 355.8,52.4 363.1,51.2C370.5,50.1 377.8,48.8 385.1,47.5C392.5,46.2 399.9,45.2 407.1,43.2C413.2,41.5 419.4,39.7 425.0,36.8C427.8,35.4 430.4,33.7 433.0,31.9C435.4,30.2 437.8,28.4 440.0,26.5C442.1,24.7 443.9,22.6 446.0,20.8C446.6,20.3 447.3,19.8 448.0,19.3L448.0,19.3L236.0,19.3L236.0,19.3C232.7,21.5 229.4,23.7 226.1,26.0C219.3,30.9 212.7,36.1 206.1,41.3C201.4,44.9 196.7,48.6 192.1,52.4C189.4,54.7 186.7,56.9 184.1,59.3C182.6,60.7 181.0,62.0 179.6,63.6C178.8,64.5 177.8,65.4 177.1,66.5C176.7,67.2 176.5,67.9 176.1,68.6Z"/>
<path fill="#aeaeae" d="M179.9,66.4C180.0,66.6 180.0,66.7 180.2,66.8C180.4,67.2 180.7,67.5 181.1,67.8C181.6,68.3 182.2,68.7 182.9,69.1C183.8,69.7 184.8,70.2 185.9,70.6C187.1,71.0 188.5,71.3 189.9,71.5C191.5,71.7 193.2,71.6 194.9,71.6C197.2,71.5 199.5,71.0 201.9,70.7C204.5,70.3 207.2,69.9 209.9,69.5C213.2,68.9 216.5,68.1 219.9,67.5C224.8,66.7 229.8,66.2 234.9,65.7C242.2,65.1 249.5,65.2 256.9,64.9C264.2,64.6 271.5,64.4 278.9,63.9C286.2,63.4 293.6,63.1 300.9,62.0C308.3,60.8 315.5,58.5 322.9,56.8C330.2,55.1 337.5,53.2 344.9,51.7C352.1,50.3 359.5,49.5 366.9,48.3C374.2,47.1 381.5,45.9 388.9,44.5C396.2,43.1 403.7,42.1 410.9,39.9C415.7,38.5 420.5,36.9 425.0,34.7C427.7,33.4 430.5,31.9 433.0,30.2C435.4,28.6 437.8,26.8 440.0,24.9C442.0,23.1 443.8,21.2 445.7,19.3L445.7,19.3L236.0,19.3L236.0,19.3C233.9,20.6 231.9,21.9 229.9,23.3C222.9,28.0 216.4,33.4 209.9,38.6C205.1,42.4 200.4,46.1 195.9,50.0C193.2,52.2 190.4,54.5 187.9,56.9C186.3,58.3 184.8,59.7 183.4,61.2C182.5,62.2 181.5,63.1 180.9,64.2C180.5,64.9 180.2,65.7 179.9,66.4Z"/>
<path fill="#bcbcbc" d="M183.5,64.4C183.6,64.5 183.7,64.7 183.8,64.8C184.0,65.1 184.3,65.4 184.7,65.7C185.2,66.1 185.8,66.5 186.5,66.9C187.4,67.4 188.4,67.9 189.5,68.2C190.7,68.6 192.1,68.8 193.5,68.9C195.1,69.1 196.8,68.9 198.5,68.8C200.8,68.7 203.1,68.4 205.5,68.1C208.1,67.8 210.8,67.4 213.5,66.9C216.8,66.4 220.1,65.6 223.5,65.1C228.4,64.4 233.5,64.2 238.5,63.9C245.8,63.4 253.1,63.3 260.5,63.0C267.8,62.7 275.2,62.7 282.5,62.2C289.8,61.6 297.2,60.8 304.5,59.5C311.9,58.2 319.1,55.8 326.5,54.1C333.8,52.4 341.1,50.6 348.5,49.2C355.8,47.8 363.1,46.8 370.5,45.6C377.8,44.3 385.2,43.2 392.5,41.8C399.8,40.3 407.3,39.1 414.5,36.8C418.0,35.7 421.6,34.4 425.0,32.8C427.7,31.6 430.5,30.4 433.0,28.8C435.5,27.3 437.9,25.5 440.0,23.6C441.5,22.2 442.8,20.7 444.1,19.3L444.1,19.3L236.0,19.3L236.0,19.3C235.2,19.8 234.3,20.2 233.5,20.7C226.1,24.8 220.0,30.8 213.5,36.1C208.8,39.9 204.0,43.7 199.5,47.6C196.8,49.9 194.1,52.2 191.5,54.6C189.9,56.1 188.4,57.5 187.0,59.0C186.1,60.0 185.1,61.0 184.5,62.1C184.1,62.8 183.8,63.6 183.5,64.4Z"/>
<path fill="#c9c9c9" d="M187.0,62.5C187.1,62.6 187.2,62.7 187.3,62.9C187.6,63.2 187.9,63.4 188.2,63.7C188.8,64.1 189.4,64.5 190.0,64.8C191.0,65.3 192.0,65.6 193.0,65.9C194.3,66.2 195.7,66.3 197.0,66.3C198.7,66.5 200.4,66.4 202.0,66.3C204.4,66.3 206.7,66.0 209.0,65.8C211.7,65.5 214.3,65.0 217.0,64.6C220.4,64.1 223.7,63.4 227.0,63.1C232.0,62.5 237.0,62.5 242.0,62.2C249.3,61.8 256.7,61.5 264.0,61.2C271.3,60.9 278.7,61.1 286.0,60.5C293.4,59.8 300.8,58.6 308.0,57.1C315.4,55.6 322.6,53.2 330.0,51.4C337.3,49.7 344.7,48.1 352.0,46.7C359.3,45.3 366.7,44.2 374.0,43.0C381.3,41.7 388.7,40.8 396.0,39.3C403.4,37.7 410.9,36.3 418.0,33.8C420.4,33.0 422.7,32.1 425.0,31.2C427.7,30.0 430.5,29.0 433.0,27.5C435.5,26.0 437.9,24.4 440.0,22.4C441.0,21.4 441.9,20.3 442.8,19.3L442.8,19.3L236.0,19.3L236.0,19.3C229.7,24.1 223.2,28.6 217.0,33.6C212.3,37.4 207.6,41.2 203.0,45.2C200.3,47.6 197.6,49.9 195.0,52.4C193.5,53.9 191.9,55.4 190.5,57.0C189.6,58.0 188.7,59.0 188.0,60.1C187.6,60.9 187.3,61.7 187.0,62.5Z"/>
<path fill="#d5d5d5" d="M190.6,60.7C190.7,60.8 190.8,60.9 190.9,61.0C191.2,61.3 191.5,61.5 191.8,61.7C192.4,62.1 193.0,62.4 193.6,62.7C194.6,63.1 195.6,63.3 196.6,63.5C198.0,63.8 199.3,63.9 200.6,64.0C202.3,64.1 204.0,64.1 205.6,64.1C208.0,64.0 210.3,63.8 212.6,63.5C215.3,63.2 218.0,62.7 220.6,62.3C224.0,61.9 227.3,61.5 230.6,61.2C235.6,60.8 240.6,60.9 245.6,60.6C253.0,60.3 260.3,59.8 267.6,59.5C275.0,59.2 282.4,59.5 289.6,58.8C297.0,58.0 304.4,56.3 311.6,54.7C319.0,53.0 326.3,50.6 333.6,48.8C340.9,47.1 348.3,45.7 355.6,44.4C363.0,43.0 370.3,41.8 377.6,40.5C385.0,39.3 392.4,38.5 399.6,36.9C407.1,35.3 414.5,33.5 421.6,30.9C422.8,30.5 423.9,30.0 425.0,29.6C427.7,28.5 430.5,27.6 433.0,26.2C435.5,24.9 438.0,23.3 440.0,21.3C440.6,20.6 441.2,20.0 441.7,19.3L441.7,19.3L236.0,19.3L236.0,19.3C230.9,23.2 225.7,26.9 220.6,31.0C215.9,34.8 211.2,38.8 206.6,42.9C203.9,45.3 201.2,47.7 198.6,50.3C197.1,51.8 195.5,53.3 194.1,54.9C193.3,56.0 192.3,57.0 191.6,58.2C191.2,59.0 191.0,59.9 190.6,60.7Z"/>
<path fill="#dfdfdf" d="M194.3,59.0C194.4,59.1 194.5,59.2 194.6,59.3C194.9,59.5 195.2,59.7 195.5,59.9C196.1,60.2 196.7,60.4 197.3,60.7C198.3,61.0 199.3,61.3 200.3,61.5C201.6,61.7 203.0,61.9 204.3,62.0C206.0,62.1 207.7,62.1 209.3,62.0C211.7,61.9 214.0,61.7 216.3,61.4C219.0,61.1 221.6,60.6 224.3,60.3C227.6,60.0 231.0,59.8 234.3,59.6C239.3,59.3 244.3,59.3 249.3,59.1C256.7,58.8 264.0,58.3 271.3,57.9C278.7,57.5 286.1,57.9 293.3,56.9C300.7,56.0 308.0,54.0 315.3,52.2C322.7,50.4 329.9,48.0 337.3,46.3C344.6,44.6 352.0,43.4 359.3,42.1C366.6,40.7 374.0,39.5 381.3,38.3C388.7,37.0 396.1,36.3 403.3,34.7C410.7,33.0 417.9,30.7 425.0,28.2C427.7,27.2 430.5,26.4 433.0,25.1C435.5,23.8 438.1,22.3 440.0,20.2C440.3,19.9 440.5,19.6 440.8,19.3L440.8,19.3L236.1,19.3L236.1,19.3C232.2,22.3 228.1,25.2 224.3,28.3C219.5,32.1 214.9,36.2 210.3,40.4C207.6,42.9 204.9,45.4 202.3,48.1C200.8,49.6 199.2,51.2 197.8,52.9C196.9,54.0 196.0,55.1 195.3,56.4C194.9,57.2 194.7,58.1 194.3,59.0Z"/>
<path fill="#e8e8e8" d="M197.9,57.4C198.0,57.5 198.1,57.6 198.2,57.6C198.5,57.9 198.8,58.0 199.1,58.2C199.7,58.5 200.3,58.7 200.9,58.9C201.9,59.3 202.9,59.5 203.9,59.7C205.2,60.0 206.6,60.1 207.9,60.1C209.6,60.2 211.3,60.2 212.9,60.1C215.3,60.0 217.6,59.7 219.9,59.4C222.6,59.2 225.3,58.8 227.9,58.6C231.2,58.4 234.6,58.3 237.9,58.1C242.9,57.9 247.9,57.9 252.9,57.7C260.3,57.4 267.6,56.9 274.9,56.4C282.3,56.0 289.7,56.0 296.9,55.0C304.4,53.9 311.6,51.6 318.9,49.8C326.3,48.0 333.5,45.7 340.9,44.0C348.2,42.4 355.6,41.2 362.9,39.9C370.2,38.6 377.6,37.4 384.9,36.2C392.3,35.0 399.7,34.3 406.9,32.5C413.0,31.0 419.0,28.9 425.0,26.8C427.7,25.9 430.5,25.3 433.0,24.1C435.5,22.8 438.2,21.5 440.0,19.3C440.0,19.3 440.0,19.3 440.0,19.3L440.0,19.3L236.1,19.3L236.1,19.3C233.4,21.4 230.6,23.4 227.9,25.5C223.1,29.4 218.5,33.7 213.9,38.0C211.2,40.6 208.5,43.2 205.9,45.9C204.4,47.6 202.8,49.2 201.4,51.0C200.5,52.1 199.6,53.3 198.9,54.6C198.5,55.5 198.3,56.5 197.9,57.4Z"/>
<path fill="#f0f0f0" d="M201.4,55.9C201.5,56.0 201.6,56.1 201.7,56.1C201.9,56.3 202.2,56.5 202.6,56.6C203.1,56.9 203.7,57.1 204.4,57.3C205.3,57.7 206.3,57.9 207.4,58.0C208.7,58.2 210.0,58.3 211.4,58.4C213.0,58.5 214.7,58.4 216.4,58.3C218.7,58.2 221.0,57.8 223.4,57.6C226.0,57.4 228.7,57.2 231.4,57.1C234.7,57.0 238.0,56.9 241.4,56.8C246.4,56.7 251.4,56.5 256.4,56.3C263.7,55.9 271.0,55.5 278.4,54.9C285.7,54.3 293.1,54.0 300.4,52.7C307.8,51.5 315.0,49.2 322.4,47.4C329.7,45.6 337.0,43.5 344.4,41.9C351.6,40.3 359.0,39.2 366.4,37.9C373.7,36.6 381.0,35.5 388.4,34.3C395.7,33.0 403.2,32.3 410.4,30.4C415.3,29.1 420.1,27.2 425.0,25.6C427.7,24.8 430.5,24.4 433.0,23.2C435.1,22.1 436.9,20.6 438.8,19.3L438.8,19.3L236.1,19.3L236.1,19.3C234.5,20.4 232.9,21.5 231.4,22.7C226.3,26.6 221.9,31.2 217.4,35.6C214.6,38.3 211.9,41.0 209.4,43.8C207.8,45.6 206.2,47.3 204.9,49.1C204.0,50.3 203.0,51.6 202.4,52.9C201.9,53.9 201.7,54.9 201.4,55.9Z"/>
<path fill="#f8f8f8" d="M204.6,54.5C204.7,54.6 204.8,54.7 204.9,54.7C205.1,54.9 205.4,55.1 205.8,55.2C206.3,55.5 206.9,55.7 207.6,55.8C208.5,56.1 209.5,56.3 210.6,56.4C211.9,56.6 213.2,56.7 214.6,56.7C216.2,56.8 217.9,56.6 219.6,56.6C221.9,56.4 224.2,56.2 226.6,56.1C229.2,56.0 231.9,55.9 234.6,55.8C237.9,55.7 241.2,55.7 244.6,55.6C249.6,55.5 254.6,55.2 259.6,54.9C266.9,54.5 274.2,54.1 281.6,53.4C288.9,52.6 296.3,51.8 303.6,50.5C311.0,49.1 318.2,46.8 325.6,45.1C332.9,43.3 340.2,41.4 347.6,39.9C354.8,38.4 362.2,37.3 369.6,36.0C376.9,34.8 384.2,33.6 391.6,32.3C398.9,31.0 406.3,30.0 413.6,28.1C417.4,27.1 421.2,25.8 425.0,24.7C427.7,23.9 430.6,23.7 433.0,22.5C434.6,21.7 436.1,20.4 437.6,19.3L437.6,19.3L236.1,19.3L236.1,19.3C235.6,19.5 235.1,19.7 234.6,20.0C228.7,22.7 225.1,28.7 220.6,33.3C217.8,36.1 215.1,38.9 212.6,41.8C211.0,43.6 209.4,45.4 208.1,47.4C207.2,48.7 206.2,49.9 205.6,51.4C205.1,52.4 204.9,53.5 204.6,54.5Z"/>
<path fill="#ffffff" d="M207.5,53.2C207.6,53.3 207.7,53.3 207.8,53.4C208.1,53.6 208.4,53.7 208.7,53.8C209.3,54.1 209.9,54.3 210.5,54.4C211.5,54.7 212.5,54.8 213.5,55.0C214.8,55.1 216.2,55.2 217.5,55.2C219.2,55.2 220.8,55.1 222.5,55.0C224.8,54.9 227.2,54.8 229.5,54.8C232.2,54.7 234.8,54.7 237.5,54.7C240.8,54.6 244.2,54.7 247.5,54.6C252.5,54.4 257.5,54.0 262.5,53.6C269.8,53.1 277.2,52.8 284.5,51.9C291.9,51.1 299.2,49.9 306.5,48.5C313.9,47.0 321.1,44.7 328.5,43.0C335.8,41.3 343.1,39.6 350.5,38.2C357.8,36.7 365.2,35.5 372.5,34.3C379.8,33.0 387.2,31.9 394.5,30.6C401.8,29.2 409.2,28.0 416.5,26.1C419.3,25.4 422.2,24.5 425.0,23.8C427.7,23.1 430.6,23.1 433.0,21.8C434.3,21.2 435.4,20.1 436.5,19.3L436.5,19.3L236.2,19.3L236.2,19.3C231.9,23.2 227.5,26.9 223.5,31.0C220.7,33.9 218.0,36.8 215.5,39.9C213.9,41.8 212.3,43.7 211.0,45.7C210.1,47.1 209.1,48.4 208.5,49.9C208.1,51.0 207.8,52.1 207.5,53.2Z"/>
<path d="M104.9,146.4L139,146.2L139,146.8L104.9,147.1Z" fill="#000"/></g>
<line x1="374.2" y1="364.0" x2="374.2" y2="19.3" stroke="#f00" stroke-width="1.9" stroke-dasharray="6.3 5.65"/>
<rect x="104.90" y="19.30" width="399.10" height="344.70" fill="none" stroke="#000" stroke-width="1.25"/>
<path d="M104.90,364.00v7.70M104.90,19.30v-7.70M134.94,364.00v5.00M134.94,19.30v-5.00M152.50,364.00v5.00M152.50,19.30v-5.00M164.97,364.00v5.00M164.97,19.30v-5.00M174.64,364.00v5.00M174.64,19.30v-5.00M182.54,364.00v5.00M182.54,19.30v-5.00M189.22,364.00v5.00M189.22,19.30v-5.00M195.01,364.00v5.00M195.01,19.30v-5.00M200.11,364.00v5.00M200.11,19.30v-5.00M204.68,364.00v7.70M204.68,19.30v-7.70M234.71,364.00v5.00M234.71,19.30v-5.00M252.28,364.00v5.00M252.28,19.30v-5.00M264.75,364.00v5.00M264.75,19.30v-5.00M274.41,364.00v5.00M274.41,19.30v-5.00M282.32,364.00v5.00M282.32,19.30v-5.00M288.99,364.00v5.00M288.99,19.30v-5.00M294.78,364.00v5.00M294.78,19.30v-5.00M299.88,364.00v5.00M299.88,19.30v-5.00M304.45,364.00v7.70M304.45,19.30v-7.70M334.49,364.00v5.00M334.49,19.30v-5.00M352.05,364.00v5.00M352.05,19.30v-5.00M364.52,364.00v5.00M364.52,19.30v-5.00M374.19,364.00v5.00M374.19,19.30v-5.00M382.09,364.00v5.00M382.09,19.30v-5.00M388.77,364.00v5.00M388.77,19.30v-5.00M394.56,364.00v5.00M394.56,19.30v-5.00M399.66,364.00v5.00M399.66,19.30v-5.00M404.23,364.00v7.70M404.23,19.30v-7.70M434.26,364.00v5.00M434.26,19.30v-5.00M451.83,364.00v5.00M451.83,19.30v-5.00M464.30,364.00v5.00M464.30,19.30v-5.00M473.96,364.00v5.00M473.96,19.30v-5.00M481.87,364.00v5.00M481.87,19.30v-5.00M488.54,364.00v5.00M488.54,19.30v-5.00M494.33,364.00v5.00M494.33,19.30v-5.00M499.43,364.00v5.00M499.43,19.30v-5.00M504.00,364.00v7.70M504.00,19.30v-7.70M104.90,364.00h-7.70M504.00,364.00h7.70M104.90,343.25h-5.00M504.00,343.25h5.00M104.90,331.11h-5.00M504.00,331.11h5.00M104.90,322.49h-5.00M504.00,322.49h5.00M104.90,315.81h-5.00M504.00,315.81h5.00M104.90,310.35h-5.00M504.00,310.35h5.00M104.90,305.74h-5.00M504.00,305.74h5.00M104.90,301.74h-5.00M504.00,301.74h5.00M104.90,298.21h-5.00M504.00,298.21h5.00M104.90,295.06h-7.70M504.00,295.06h7.70M104.90,274.31h-5.00M504.00,274.31h5.00M104.90,262.17h-5.00M504.00,262.17h5.00M104.90,253.55h-5.00M504.00,253.55h5.00M104.90,246.87h-5.00M504.00,246.87h5.00M104.90,241.41h-5.00M504.00,241.41h5.00M104.90,236.80h-5.00M504.00,236.80h5.00M104.90,232.80h-5.00M504.00,232.80h5.00M104.90,229.27h-5.00M504.00,229.27h5.00M104.90,226.12h-7.70M504.00,226.12h7.70M104.90,205.37h-5.00M504.00,205.37h5.00M104.90,193.23h-5.00M504.00,193.23h5.00M104.90,184.61h-5.00M504.00,184.61h5.00M104.90,177.93h-5.00M504.00,177.93h5.00M104.90,172.47h-5.00M504.00,172.47h5.00M104.90,167.86h-5.00M504.00,167.86h5.00M104.90,163.86h-5.00M504.00,163.86h5.00M104.90,160.33h-5.00M504.00,160.33h5.00M104.90,157.18h-7.70M504.00,157.18h7.70M104.90,136.43h-5.00M504.00,136.43h5.00M104.90,124.29h-5.00M504.00,124.29h5.00M104.90,115.67h-5.00M504.00,115.67h5.00M104.90,108.99h-5.00M504.00,108.99h5.00M104.90,103.53h-5.00M504.00,103.53h5.00M104.90,98.92h-5.00M504.00,98.92h5.00M104.90,94.92h-5.00M504.00,94.92h5.00M104.90,91.39h-5.00M504.00,91.39h5.00M104.90,88.24h-7.70M504.00,88.24h7.70M104.90,67.49h-5.00M504.00,67.49h5.00M104.90,55.35h-5.00M504.00,55.35h5.00M104.90,46.73h-5.00M504.00,46.73h5.00M104.90,40.05h-5.00M504.00,40.05h5.00M104.90,34.59h-5.00M504.00,34.59h5.00M104.90,29.98h-5.00M504.00,29.98h5.00M104.90,25.98h-5.00M504.00,25.98h5.00M104.90,22.45h-5.00M504.00,22.45h5.00M104.90,19.30h-7.70M504.00,19.30h7.70" stroke="#000" stroke-width="1.25" fill="none"/>
<text transform="translate(82.18,402.8) scale(1.120,1)" font-size="21.3" font-family="Liberation Serif, serif">10</text><text transform="translate(105.97,393.8) scale(1.32,1)" font-size="15.0" font-family="Liberation Serif, serif">−</text><text transform="translate(117.67,393.8) scale(1.08,1)" font-size="15.4" font-family="Liberation Serif, serif">2</text>
<text transform="translate(182.96,402.8) scale(1.120,1)" font-size="21.3" font-family="Liberation Serif, serif">10</text><text transform="translate(206.74,393.8) scale(1.32,1)" font-size="15.0" font-family="Liberation Serif, serif">−</text><text transform="translate(217.44,393.8) scale(1.08,1)" font-size="15.4" font-family="Liberation Serif, serif">1</text>
<text transform="translate(287.53,402.8) scale(1.120,1)" font-size="21.3" font-family="Liberation Serif, serif">10</text><text transform="translate(311.42,393.8) scale(1.08,1)" font-size="15.4" font-family="Liberation Serif, serif">0</text>
<text transform="translate(388.31,402.8) scale(1.120,1)" font-size="21.3" font-family="Liberation Serif, serif">10</text><text transform="translate(411.19,393.8) scale(1.08,1)" font-size="15.4" font-family="Liberation Serif, serif">1</text>
<text transform="translate(487.08,402.8) scale(1.120,1)" font-size="21.3" font-family="Liberation Serif, serif">10</text><text transform="translate(510.97,393.8) scale(1.08,1)" font-size="15.4" font-family="Liberation Serif, serif">2</text>
<text transform="translate(44.02,370.0) scale(1.120,1)" font-size="21.3" font-family="Liberation Serif, serif">10</text><text transform="translate(67.80,361.0) scale(1.32,1)" font-size="15.0" font-family="Liberation Serif, serif">−</text><text transform="translate(79.50,361.0) scale(1.08,1)" font-size="15.4" font-family="Liberation Serif, serif">3</text>
<text transform="translate(44.02,301.1) scale(1.120,1)" font-size="21.3" font-family="Liberation Serif, serif">10</text><text transform="translate(67.80,292.1) scale(1.32,1)" font-size="15.0" font-family="Liberation Serif, serif">−</text><text transform="translate(79.50,292.1) scale(1.08,1)" font-size="15.4" font-family="Liberation Serif, serif">2</text>
<text transform="translate(46.02,232.1) scale(1.120,1)" font-size="21.3" font-family="Liberation Serif, serif">10</text><text transform="translate(69.80,223.1) scale(1.32,1)" font-size="15.0" font-family="Liberation Serif, serif">−</text><text transform="translate(80.50,223.1) scale(1.08,1)" font-size="15.4" font-family="Liberation Serif, serif">1</text>
<text transform="translate(55.62,163.2) scale(1.120,1)" font-size="21.3" font-family="Liberation Serif, serif">10</text><text transform="translate(79.50,154.2) scale(1.08,1)" font-size="15.4" font-family="Liberation Serif, serif">0</text>
<text transform="translate(57.62,94.2) scale(1.120,1)" font-size="21.3" font-family="Liberation Serif, serif">10</text><text transform="translate(80.50,85.2) scale(1.08,1)" font-size="15.4" font-family="Liberation Serif, serif">1</text>
<text transform="translate(55.62,25.3) scale(1.120,1)" font-size="21.3" font-family="Liberation Serif, serif">10</text><text transform="translate(79.50,16.3) scale(1.08,1)" font-size="15.4" font-family="Liberation Serif, serif">2</text>
<text transform="translate(284.6,438.5) scale(1.05,1)" font-size="23.5" font-family="Liberation Serif, serif"><tspan font-style="italic">k</tspan><tspan font-size="15" dy="5" font-style="normal">∥</tspan><tspan dy="-5" font-style="italic" dx="1.5">H</tspan></text>
<text transform="translate(24.6,213.9) rotate(-90) scale(1.25,1)" font-size="22.5" font-family="Liberation Serif, serif"><tspan font-style="italic">k</tspan><tspan font-size="15" dy="4.5" font-style="italic">y</tspan><tspan dy="-4.5" font-style="italic">ρ</tspan><tspan font-size="15" dy="4.5" font-style="italic">i</tspan></text>
<text x="0.8" y="23.9" font-size="27.5" letter-spacing="0.6" font-family="Liberation Serif, serif">(<tspan font-style="italic">a</tspan>)</text>
<rect x="527.50" y="19.30" width="31.90" height="344.70" fill="#000000"/>
<rect x="527.50" y="19.30" width="31.90" height="327.46" fill="#0f0f0f"/>
<rect x="527.50" y="19.30" width="31.90" height="310.23" fill="#1f1f1f"/>
<rect x="527.50" y="19.30" width="31.90" height="293.00" fill="#2f2f2f"/>
<rect x="527.50" y="19.30" width="31.90" height="275.76" fill="#3f3f3f"/>
<rect x="527.50" y="19.30" width="31.90" height="258.52" fill="#4f4f4f"/>
<rect x="527.50" y="19.30" width="31.90" height="241.29" fill="#5f5f5f"/>
<rect x="527.50" y="19.30" width="31.90" height="224.06" fill="#6f6f6f"/>
<rect x="527.50" y="19.30" width="31.90" height="206.82" fill="#7f7f7f"/>
<rect x="527.50" y="19.30" width="31.90" height="189.58" fill="#8f8f8f"/>
<rect x="527.50" y="19.30" width="31.90" height="172.35" fill="#9f9f9f"/>
<rect x="527.50" y="19.30" width="31.90" height="155.12" fill="#aeaeae"/>
<rect x="527.50" y="19.30" width="31.90" height="137.88" fill="#bcbcbc"/>
<rect x="527.50" y="19.30" width="31.90" height="120.64" fill="#c9c9c9"/>
<rect x="527.50" y="19.30" width="31.90" height="103.41" fill="#d5d5d5"/>
<rect x="527.50" y="19.30" width="31.90" height="86.18" fill="#dfdfdf"/>
<rect x="527.50" y="19.30" width="31.90" height="68.94" fill="#e8e8e8"/>
<rect x="527.50" y="19.30" width="31.90" height="51.70" fill="#f0f0f0"/>
<rect x="527.50" y="19.30" width="31.90" height="34.47" fill="#f8f8f8"/>
<rect x="527.50" y="19.30" width="31.90" height="17.24" fill="#ffffff"/>
<rect x="527.50" y="19.30" width="31.90" height="344.70" fill="none" stroke="#000" stroke-width="1.25"/>
<text transform="translate(568.4,370.3) scale(1.07,1)" font-size="21.3" font-family="Liberation Serif, serif">0.0</text>
<text transform="translate(568.4,332.0) scale(1.07,1)" font-size="21.3" font-family="Liberation Serif, serif">0.2</text>
<text transform="translate(568.4,293.7) scale(1.07,1)" font-size="21.3" font-family="Liberation Serif, serif">0.4</text>
<text transform="translate(568.4,255.4) scale(1.07,1)" font-size="21.3" font-family="Liberation Serif, serif">0.6</text>
<text transform="translate(568.4,217.1) scale(1.07,1)" font-size="21.3" font-family="Liberation Serif, serif">0.8</text>
<text transform="translate(568.4,178.8) scale(1.07,1)" font-size="21.3" font-family="Liberation Serif, serif">1.0</text>
<text transform="translate(568.4,140.5) scale(1.07,1)" font-size="21.3" font-family="Liberation Serif, serif">1.2</text>
<text transform="translate(568.4,102.2) scale(1.07,1)" font-size="21.3" font-family="Liberation Serif, serif">1.4</text>
<text transform="translate(568.4,63.9) scale(1.07,1)" font-size="21.3" font-family="Liberation Serif, serif">1.6</text>
<text transform="translate(568.4,25.6) scale(1.07,1)" font-size="21.3" font-family="Liberation Serif, serif">1.8</text>
<path d="M559.40,325.70h-4.4M559.40,287.40h-4.4M559.40,249.10h-4.4M559.40,210.80h-4.4M559.40,172.50h-4.4M559.40,134.20h-4.4M559.40,95.90h-4.4M559.40,57.60h-4.4" stroke="#000" stroke-width="1.25" fill="none"/>
<clipPath id="cb"><rect x="729.60" y="20.90" width="443.40" height="342.90"/></clipPath>
<g clip-path="url(#cb)" fill="none" stroke-linejoin="round">
<path d="M983.3,363.8L1173,71.5" stroke="#00f" stroke-width="1.6" stroke-dasharray="1.6 2.1"/>
<path d="M729.6,138.8 732.7,138.9 735.7,138.9 738.8,138.9 741.8,139.0 744.8,139.0 747.9,139.0 750.9,139.0 753.9,139.0 757.0,139.0 760.0,139.0 763.0,139.0 766.1,139.0 769.1,139.0 772.1,138.9 775.1,138.9 778.1,138.9 781.2,138.9 784.2,138.9 787.2,138.9 790.2,138.8 793.2,138.8 796.3,138.8 799.3,138.8 802.3,138.8 805.3,138.8 808.3,138.8 811.4,138.8 814.4,138.9 817.4,138.9 820.4,138.9 823.5,139.0 826.5,139.0 829.5,139.1 832.6,139.2 835.6,139.3 838.6,139.3 841.7,139.5 844.7,139.6 847.8,139.7 850.8,139.9 853.9,140.0 856.9,140.2 860.0,140.4 863.1,140.6 866.1,140.8 869.2,141.1 872.2,141.4 875.3,141.7 878.3,142.1 881.3,142.5 884.3,143.0 887.3,143.5 890.3,144.1 893.2,144.7 896.1,145.4 899.0,146.2 901.9,147.0 904.7,147.9 907.5,148.9 910.3,150.0 913.0,151.2 915.7,152.5 918.3,153.8 920.9,155.3 923.4,156.9 925.9,158.5 928.4,160.3 930.8,162.2 933.2,164.1 935.5,166.0 937.8,168.1 940.2,170.1 942.5,172.2 944.7,174.3 947.0,176.3 949.3,178.4 951.7,180.4 954.0,182.4 956.3,184.3 958.7,186.2 961.1,188.0 963.5,189.8 965.9,191.6 968.3,193.5 970.6,195.3 972.9,197.2 975.2,199.1 977.4,201.2 979.5,203.3 981.6,205.5 983.7,207.7 985.8,209.9 987.8,212.1 989.9,214.3 992.1,216.4 994.3,218.5 996.5,220.5 998.8,222.4 1001.1,224.2 1003.6,225.9 1006.1,227.6 1008.7,229.0 1011.4,230.4 1014.2,231.7 1017.1,232.8 1020.1,233.7 1023.1,234.6 1026.1,235.3 1029.2,235.9 1032.3,236.3 1035.4,236.6 1038.5,236.8 1041.5,236.8 1044.6,236.6 1047.6,236.2 1050.5,235.6 1053.3,234.7 1056.0,233.6 1058.7,232.3 1061.3,230.9 1063.8,229.3 1066.2,227.5 1068.5,225.7 1070.8,223.8 1072.9,221.8 1075.0,219.7 1077.1,217.5 1079.0,215.3 1080.9,212.9 1082.8,210.6 1084.6,208.2 1086.3,205.7 1088.0,203.2 1089.7,200.6 1091.4,198.0 1093.0,195.4 1094.6,192.7 1096.2,190.1 1097.8,187.4 1099.3,184.7 1100.9,182.1 1102.5,179.4 1104.0,176.7 1105.6,174.1 1107.2,171.5 1108.8,168.9 1110.5,166.3 1112.1,163.7 1113.8,161.2 1115.5,158.7 1117.1,156.2 1118.8,153.7 1120.5,151.2 1122.3,148.7 1124.0,146.2 1125.7,143.8 1127.5,141.3 1129.2,138.9 1131.0,136.5 1132.7,134.0 1134.5,131.6 1136.3,129.2 1138.0,126.8 1139.8,124.4 1141.6,122.0 1143.4,119.5 1145.2,117.1 1146.9,114.7 1148.7,112.3 1150.5,109.9 1152.3,107.4 1154.0,105.0 1155.8,102.5 1157.5,100.0 1159.3,97.6 1161.0,95.1 1162.8,92.6 1164.5,90.1 1166.2,87.5 1167.9,85.0 1169.6,82.4 1171.3,79.8 1173.0,77.2" stroke="#000" stroke-width="2.1"/>
<path d="M781.0,387.0 783.2,384.8 785.5,382.6 787.7,380.4 789.9,378.2 792.0,376.0 794.2,373.8 796.4,371.7 798.6,369.5 800.7,367.4 802.9,365.2 805.0,363.1 807.1,361.0 809.3,358.9 811.4,356.7 813.6,354.6 815.7,352.5 817.8,350.4 820.0,348.3 822.1,346.2 824.2,344.0 826.4,341.9 828.5,339.8 830.7,337.7 832.8,335.6 835.0,333.4 837.2,331.3 839.3,329.2 841.5,327.0 843.7,324.9 845.9,322.7 848.2,320.6 850.4,318.4 852.6,316.2 854.9,314.0 857.2,311.8 859.5,309.7 861.8,307.5 864.2,305.4 866.6,303.4 869.0,301.4 871.5,299.6 874.0,297.8 876.6,296.2 879.3,294.7 882.0,293.4 884.9,292.3 887.7,291.4 890.7,290.7 893.6,290.4 896.4,290.6 899.1,291.3 901.6,292.5 903.9,294.1 906.1,296.2 908.0,298.5 909.7,301.1 911.2,303.8 912.4,306.8 913.4,309.8 914.2,312.9 914.8,316.0 915.4,319.1 915.8,322.3 916.3,325.4 916.7,328.5 917.1,331.5 917.5,334.6 917.9,337.6 918.3,340.6 918.6,343.6 918.9,346.6 919.2,349.6 919.5,352.5 919.7,355.5 920.0,358.5 920.2,361.5 920.4,364.6 920.6,367.6 920.7,370.7 920.8,373.7 920.9,376.9 921.0,380.0M925.2,380.0 925.2,378.0 925.2,376.0 925.2,373.9 925.2,371.9 925.2,369.9 925.2,367.9 925.3,365.9 925.3,363.9 925.3,361.9 925.4,359.8 925.5,357.8 925.5,355.8 925.6,353.8 925.7,351.8 925.8,349.8 925.9,347.8 926.1,345.8 926.2,343.8 926.3,341.8 926.5,339.8 926.6,337.8 926.8,335.8 926.9,333.8 927.1,331.8 927.3,329.8 927.5,327.8 927.6,325.8 927.8,323.8 928.1,321.8 928.3,319.8 928.5,317.8 928.7,315.8 929.0,313.8 929.2,311.8 929.5,309.8 929.7,307.8 930.0,305.8 930.2,303.9 930.5,301.9 930.8,299.9 931.1,297.9 931.4,295.9 931.7,293.9 932.0,291.9 932.3,290.0 932.6,288.0 933.0,286.0 933.3,284.0 933.6,282.0 934.0,280.1 934.3,278.1 934.7,276.1 935.1,274.1 935.4,272.1 935.8,270.2 936.2,268.2 936.6,266.2 937.0,264.2 937.4,262.3 937.8,260.3 938.2,258.3 938.6,256.4 939.0,254.4 939.4,252.4 939.9,250.5 940.3,248.5 940.8,246.5 941.3,244.6 941.8,242.7 942.4,240.7 943.0,238.8 943.6,236.9 944.3,235.0 945.0,233.1 945.7,231.2 946.5,229.3 947.3,227.4 948.2,225.6 949.1,223.7 950.1,221.9 951.2,220.2 952.4,218.5 953.6,216.9 955.0,215.5 956.5,214.2 958.1,213.1 959.8,212.3 961.7,211.6 963.6,211.1 965.5,210.9 967.5,210.9 969.4,211.0 971.3,211.5 973.1,212.1 974.8,212.9 976.4,214.0 977.9,215.2 979.3,216.6 980.6,218.1 981.9,219.7 983.1,221.4 984.3,223.2 985.4,224.9 986.5,226.7 987.6,228.5 988.7,230.3 989.7,232.1 990.8,233.9 991.8,235.6 992.8,237.4 993.8,239.1 994.8,240.9 995.7,242.6 996.7,244.3 997.7,246.0 998.7,247.8 999.6,249.5 1000.6,251.2 1001.6,252.9 1002.5,254.6 1003.5,256.3 1004.5,258.0 1005.5,259.7 1006.5,261.4 1007.5,263.1 1008.5,264.8 1009.6,266.6 1010.6,268.3 1011.7,270.0 1012.8,271.7 1014.0,273.4 1015.2,275.0 1016.4,276.7 1017.7,278.3 1019.1,279.9 1020.5,281.4 1022.0,282.9 1023.6,284.4 1025.3,285.8 1027.0,287.0 1028.7,288.1 1030.5,289.0 1032.3,289.7 1034.1,290.1 1036.0,290.2 1037.7,290.0 1039.4,289.6 1041.0,288.8 1042.5,287.8 1043.9,286.6 1045.2,285.1 1046.3,283.5 1047.5,281.8 1048.5,280.1 1049.6,278.3 1050.7,276.6 1051.7,274.8 1052.7,273.0 1053.7,271.2 1054.7,269.4 1055.6,267.6 1056.6,265.9 1057.5,264.1 1058.4,262.3 1059.4,260.4 1060.3,258.6 1061.2,256.8 1062.1,255.0 1062.9,253.2 1063.8,251.4 1064.7,249.6 1065.5,247.8 1066.4,245.9 1067.3,244.1 1068.1,242.3 1069.0,240.5 1069.8,238.7 1070.7,236.8 1071.5,235.0 1072.3,233.2 1073.2,231.4 1074.1,229.6 1074.9,227.8 1075.8,226.0 1076.6,224.1 1077.5,222.3 1078.4,220.5 1079.3,218.8 1080.2,217.0 1081.1,215.2 1082.0,213.4 1082.9,211.6 1083.9,209.8 1084.8,208.1 1085.7,206.3 1086.7,204.5 1087.6,202.8 1088.6,201.0 1089.6,199.2 1090.5,197.5 1091.5,195.7 1092.5,194.0 1093.5,192.2 1094.5,190.5 1095.5,188.8 1096.5,187.0 1097.5,185.3 1098.5,183.5 1099.5,181.8 1100.5,180.1 1101.6,178.4 1102.6,176.6 1103.6,174.9 1104.7,173.2 1105.7,171.5 1106.8,169.7 1107.8,168.0 1108.8,166.3 1109.9,164.6 1111.0,162.9 1112.0,161.1 1113.1,159.4 1114.1,157.7 1115.2,156.0 1116.3,154.3 1117.3,152.6 1118.4,150.9 1119.5,149.2 1120.5,147.5 1121.6,145.7 1122.7,144.0 1123.7,142.3 1124.8,140.6 1125.9,138.9 1126.9,137.2 1128.0,135.5 1129.1,133.8 1130.2,132.1 1131.2,130.4 1132.3,128.7 1133.4,126.9 1134.4,125.2 1135.5,123.5 1136.5,121.8 1137.6,120.1 1138.7,118.4 1139.7,116.7 1140.8,114.9 1141.8,113.2 1142.9,111.5 1143.9,109.8 1144.9,108.1 1146.0,106.3 1147.0,104.6 1148.0,102.9 1149.1,101.1 1150.1,99.4 1151.1,97.7 1152.1,95.9 1153.1,94.2 1154.1,92.5 1155.1,90.7 1156.1,89.0 1157.1,87.2 1158.1,85.5 1159.1,83.7 1160.1,82.0 1161.0,80.2 1162.0,78.4 1163.0,76.7 1163.9,74.9 1164.8,73.1 1165.8,71.3 1166.7,69.6 1167.6,67.8 1168.5,66.0 1169.5,64.2 1170.3,62.4 1171.2,60.6 1172.1,58.8 1173.0,57.0" stroke="#f00" stroke-width="2.1"/>
</g>
<rect x="729.60" y="20.90" width="443.40" height="342.90" fill="none" stroke="#111" stroke-width="1.50"/>
<path d="M762.97,363.80v-5.00M762.97,20.90v5.00M782.49,363.80v-5.00M782.49,20.90v5.00M796.34,363.80v-5.00M796.34,20.90v5.00M807.08,363.80v-5.00M807.08,20.90v5.00M815.86,363.80v-5.00M815.86,20.90v5.00M823.28,363.80v-5.00M823.28,20.90v5.00M829.71,363.80v-5.00M829.71,20.90v5.00M835.38,363.80v-5.00M835.38,20.90v5.00M840.45,363.80v-7.70M840.45,20.90v7.70M873.82,363.80v-5.00M873.82,20.90v5.00M893.34,363.80v-5.00M893.34,20.90v5.00M907.19,363.80v-5.00M907.19,20.90v5.00M917.93,363.80v-5.00M917.93,20.90v5.00M926.71,363.80v-5.00M926.71,20.90v5.00M934.13,363.80v-5.00M934.13,20.90v5.00M940.56,363.80v-5.00M940.56,20.90v5.00M946.23,363.80v-5.00M946.23,20.90v5.00M951.30,363.80v-7.70M951.30,20.90v7.70M984.67,363.80v-5.00M984.67,20.90v5.00M1004.19,363.80v-5.00M1004.19,20.90v5.00M1018.04,363.80v-5.00M1018.04,20.90v5.00M1028.78,363.80v-5.00M1028.78,20.90v5.00M1037.56,363.80v-5.00M1037.56,20.90v5.00M1044.98,363.80v-5.00M1044.98,20.90v5.00M1051.41,363.80v-5.00M1051.41,20.90v5.00M1057.08,363.80v-5.00M1057.08,20.90v5.00M1062.15,363.80v-7.70M1062.15,20.90v7.70M1095.52,363.80v-5.00M1095.52,20.90v5.00M1115.04,363.80v-5.00M1115.04,20.90v5.00M1128.89,363.80v-5.00M1128.89,20.90v5.00M1139.63,363.80v-5.00M1139.63,20.90v5.00M1148.41,363.80v-5.00M1148.41,20.90v5.00M1155.83,363.80v-5.00M1155.83,20.90v5.00M1162.26,363.80v-5.00M1162.26,20.90v5.00M1167.93,363.80v-5.00M1167.93,20.90v5.00M729.60,329.39h5.00M1173.00,329.39h-5.00M729.60,309.27h5.00M1173.00,309.27h-5.00M729.60,294.98h5.00M1173.00,294.98h-5.00M729.60,283.91h5.00M1173.00,283.91h-5.00M729.60,274.86h5.00M1173.00,274.86h-5.00M729.60,267.21h5.00M1173.00,267.21h-5.00M729.60,260.58h5.00M1173.00,260.58h-5.00M729.60,254.73h5.00M1173.00,254.73h-5.00M729.60,249.50h7.70M1173.00,249.50h-7.70M729.60,215.09h5.00M1173.00,215.09h-5.00M729.60,194.97h5.00M1173.00,194.97h-5.00M729.60,180.68h5.00M1173.00,180.68h-5.00M729.60,169.61h5.00M1173.00,169.61h-5.00M729.60,160.56h5.00M1173.00,160.56h-5.00M729.60,152.91h5.00M1173.00,152.91h-5.00M729.60,146.28h5.00M1173.00,146.28h-5.00M729.60,140.43h5.00M1173.00,140.43h-5.00M729.60,135.20h7.70M1173.00,135.20h-7.70M729.60,100.79h5.00M1173.00,100.79h-5.00M729.60,80.67h5.00M1173.00,80.67h-5.00M729.60,66.38h5.00M1173.00,66.38h-5.00M729.60,55.31h5.00M1173.00,55.31h-5.00M729.60,46.26h5.00M1173.00,46.26h-5.00M729.60,38.61h5.00M1173.00,38.61h-5.00M729.60,31.98h5.00M1173.00,31.98h-5.00M729.60,26.13h5.00M1173.00,26.13h-5.00" stroke="#111" stroke-width="1.25" fill="none"/>
<text transform="translate(707.08,398.2) scale(1.120,1)" font-size="21.3" font-family="Liberation Serif, serif">10</text><text transform="translate(730.87,389.2) scale(1.32,1)" font-size="15.0" font-family="Liberation Serif, serif">−</text><text transform="translate(742.57,389.2) scale(1.08,1)" font-size="15.4" font-family="Liberation Serif, serif">2</text>
<text transform="translate(818.93,398.2) scale(1.120,1)" font-size="21.3" font-family="Liberation Serif, serif">10</text><text transform="translate(842.72,389.2) scale(1.32,1)" font-size="15.0" font-family="Liberation Serif, serif">−</text><text transform="translate(853.42,389.2) scale(1.08,1)" font-size="15.4" font-family="Liberation Serif, serif">1</text>
<text transform="translate(934.58,398.2) scale(1.120,1)" font-size="21.3" font-family="Liberation Serif, serif">10</text><text transform="translate(958.47,389.2) scale(1.08,1)" font-size="15.4" font-family="Liberation Serif, serif">0</text>
<text transform="translate(1046.43,398.2) scale(1.120,1)" font-size="21.3" font-family="Liberation Serif, serif">10</text><text transform="translate(1069.32,389.2) scale(1.08,1)" font-size="15.4" font-family="Liberation Serif, serif">1</text>
<text transform="translate(1156.28,398.2) scale(1.120,1)" font-size="21.3" font-family="Liberation Serif, serif">10</text><text transform="translate(1180.17,389.2) scale(1.08,1)" font-size="15.4" font-family="Liberation Serif, serif">2</text>
<text transform="translate(675.42,369.8) scale(1.120,1)" font-size="21.3" font-family="Liberation Serif, serif">10</text><text transform="translate(699.20,360.8) scale(1.32,1)" font-size="15.0" font-family="Liberation Serif, serif">−</text><text transform="translate(710.90,360.8) scale(1.08,1)" font-size="15.4" font-family="Liberation Serif, serif">2</text>
<text transform="translate(677.42,255.5) scale(1.120,1)" font-size="21.3" font-family="Liberation Serif, serif">10</text><text transform="translate(701.20,246.5) scale(1.32,1)" font-size="15.0" font-family="Liberation Serif, serif">−</text><text transform="translate(711.90,246.5) scale(1.08,1)" font-size="15.4" font-family="Liberation Serif, serif">1</text>
<text transform="translate(687.02,141.2) scale(1.120,1)" font-size="21.3" font-family="Liberation Serif, serif">10</text><text transform="translate(710.90,132.2) scale(1.08,1)" font-size="15.4" font-family="Liberation Serif, serif">0</text>
<text transform="translate(689.02,26.9) scale(1.120,1)" font-size="21.3" font-family="Liberation Serif, serif">10</text><text transform="translate(711.90,17.9) scale(1.08,1)" font-size="15.4" font-family="Liberation Serif, serif">1</text>
<text transform="translate(929.4,433.9) scale(1.19,1)" font-size="22.5" font-family="Liberation Serif, serif"><tspan font-style="italic">k</tspan><tspan font-size="15" dy="4.5">⊥</tspan><tspan dy="-4.5" font-style="italic">ρ</tspan><tspan font-size="15" dy="4.5" font-style="italic">i</tspan></text>
<text transform="translate(667.3,200.5) rotate(-90)" font-size="22.5" font-style="italic" font-family="Liberation Serif, serif">ω</text>
<text x="643.2" y="23.9" font-size="27.5" letter-spacing="2.4" font-family="Liberation Serif, serif">(<tspan font-style="italic">b</tspan>)</text>
<rect x="750.3" y="39.2" width="135.9" height="56.6" fill="#fff" stroke="#000" stroke-width="1.25"/>
<line x1="759.3" y1="52.6" x2="788.4" y2="52.6" stroke="#000" stroke-width="2.1"/>
<line x1="759.3" y1="80.1" x2="788.4" y2="80.1" stroke="#f00" stroke-width="2.1"/>
<text x="797.8" y="58.8" font-size="19.2" font-family="Liberation Serif, serif">Imaginary</text>
<text x="797.8" y="86.3" font-size="19.2" font-family="Liberation Serif, serif">Real</text>
<text transform="translate(1003.8,63.6) scale(1.050,1)" font-size="19.5" font-style="italic" font-family="Liberation Serif, serif">m</text>
<text transform="translate(1018.6,67.0) scale(1.100,1)" font-size="13.5" font-style="italic" font-family="Liberation Serif, serif">e</text>
<text transform="translate(1026.4,66.4) scale(1.300,1)" font-size="26.5" font-family="Liberation Serif, serif">/</text>
<text transform="translate(1037.2,63.6) scale(1.050,1)" font-size="19.5" font-style="italic" font-family="Liberation Serif, serif">m</text>
<text transform="translate(1053.8,67.0) scale(1.100,1)" font-size="13.5" font-style="italic" font-family="Liberation Serif, serif">i</text>
<text transform="translate(1065.4,65.2) scale(1.120,1)" font-size="19.5" font-family="Liberation Serif, serif">=</text>
<text x="1085.0" y="63.6" font-size="19.3" textLength="73.0" lengthAdjust="spacingAndGlyphs" font-family="Liberation Serif, serif">1/183600</text>
</svg>
</body></html>
